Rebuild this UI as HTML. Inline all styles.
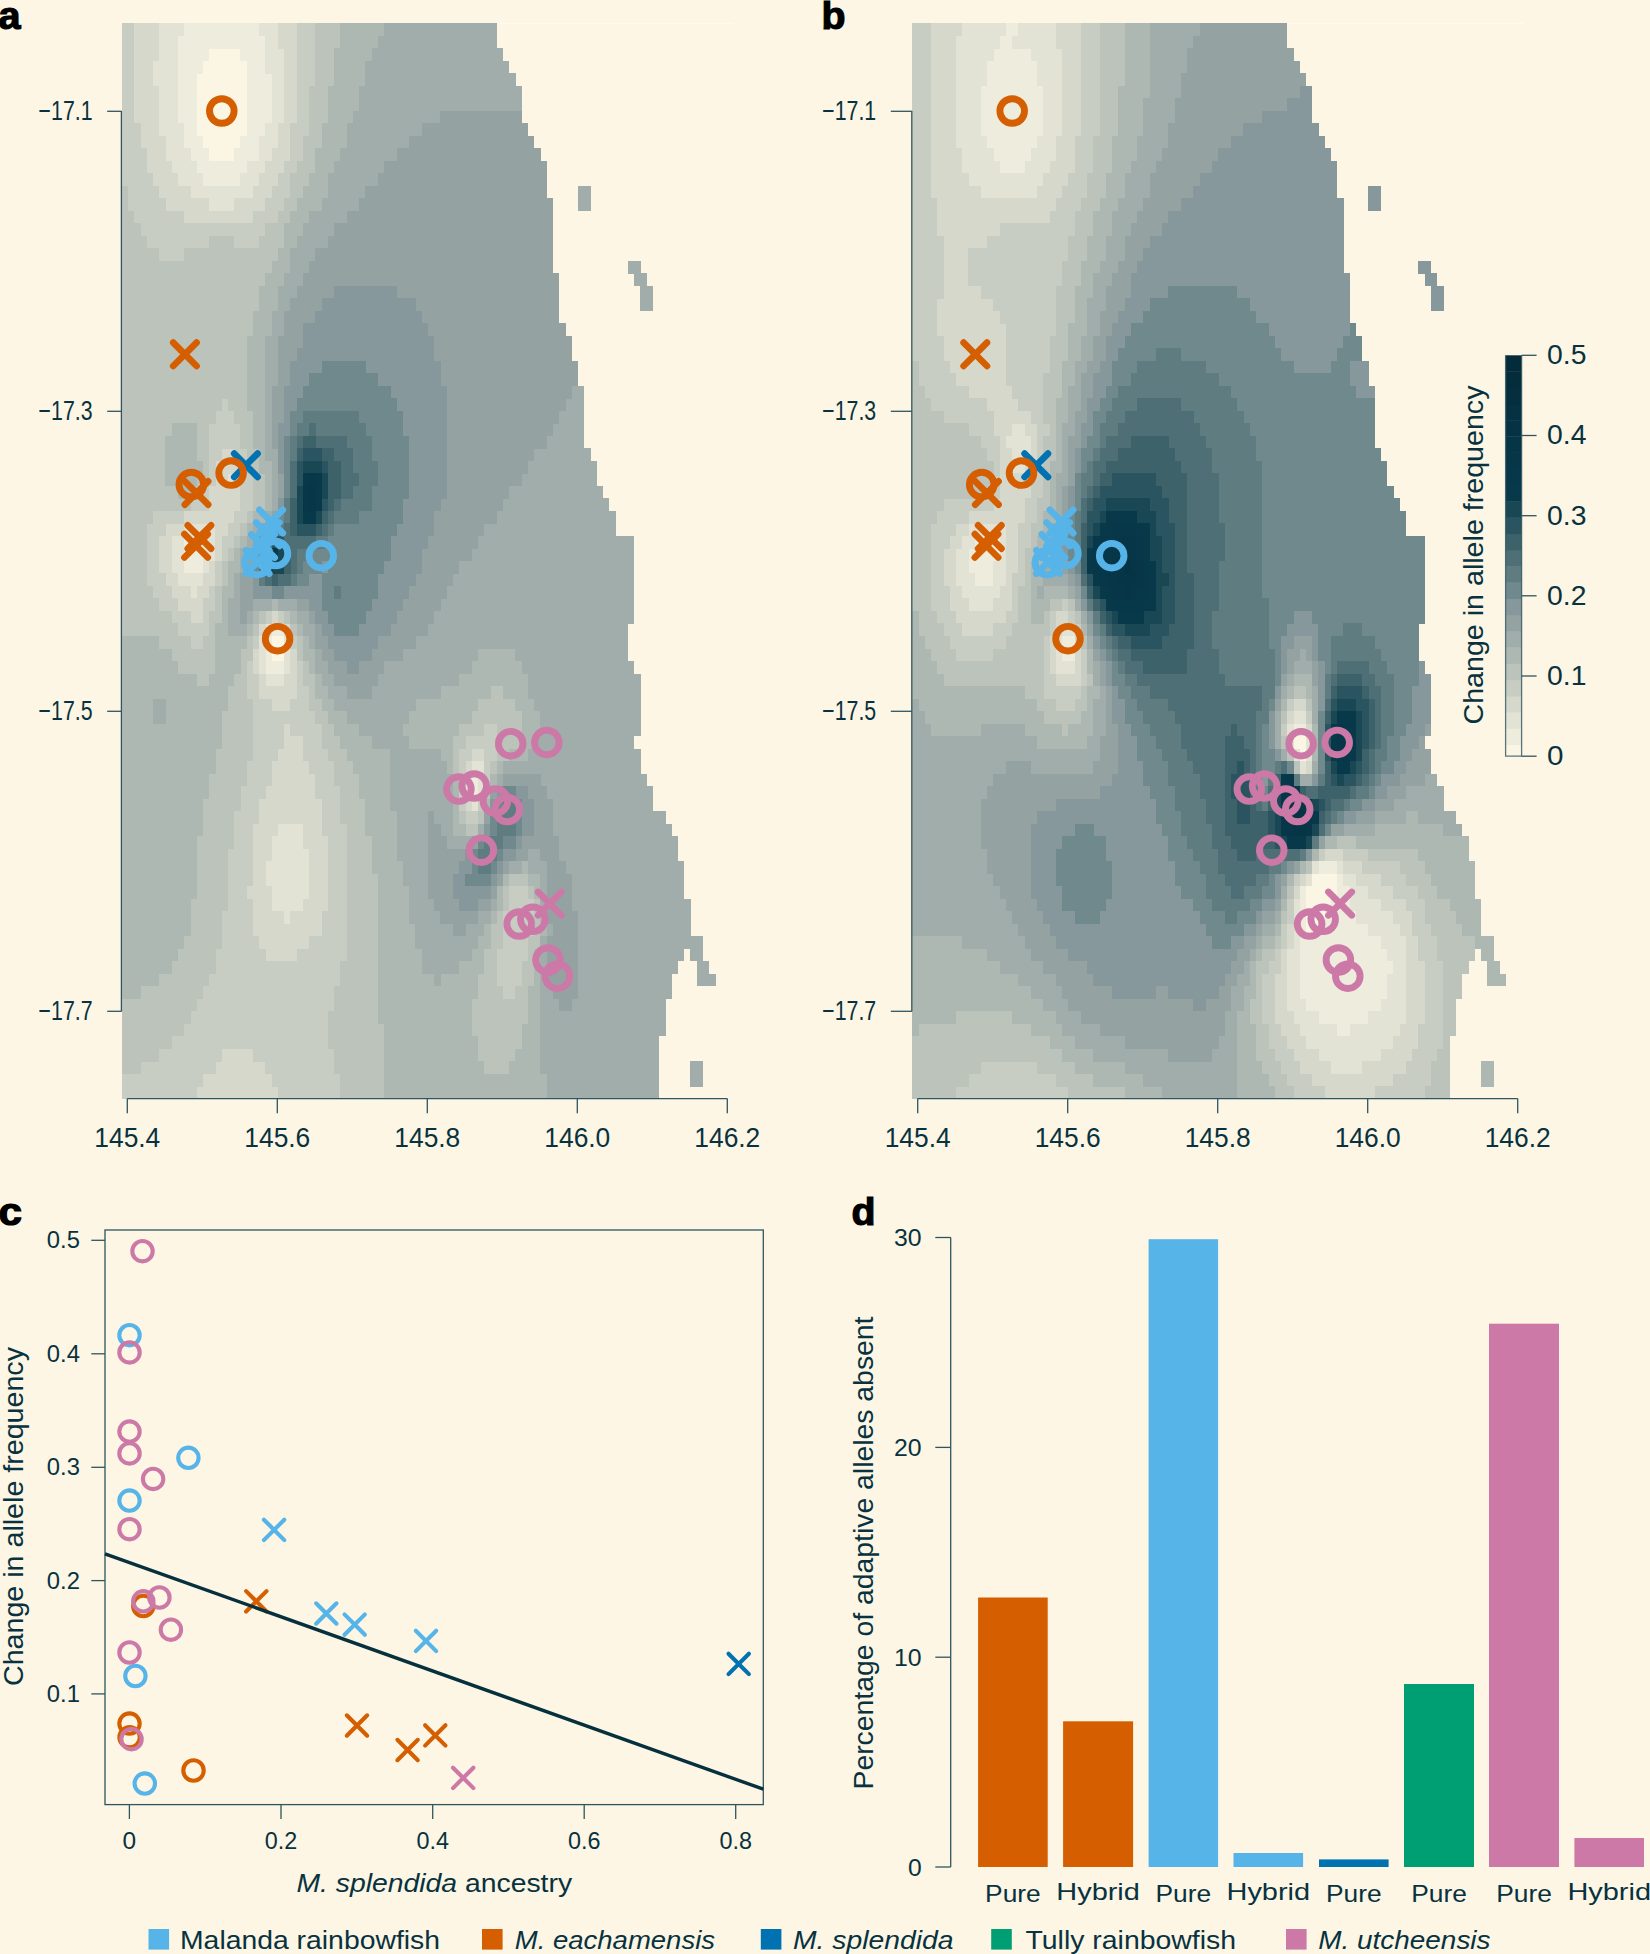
<!DOCTYPE html>
<html><head><meta charset="utf-8"><title>Figure</title>
<style>html,body{margin:0;padding:0;background:#fdf6e4;}svg{display:block;font-family:"Liberation Sans", Arial, sans-serif;}</style></head>
<body><svg width="1650" height="1954" viewBox="0 0 1650 1954">
<rect width="1650" height="1954" fill="#fdf6e4"/>
<path d="M497 23.3H734M1287.4 23.3H1524.4" stroke="#fffaf0" stroke-width="1.2"/>
<g shape-rendering="crispEdges">
<path fill="#fbf5e4" d="M209.10 48.21h31.55v12.81h-31.55zM202.85 60.72h44.05v12.81h-44.05zM196.60 73.22h50.30v12.81h-50.30zM196.60 85.73h50.30v12.81h-50.30zM196.60 98.24h50.30v12.81h-50.30zM196.60 110.74h50.30v12.81h-50.30zM196.60 123.25h50.30v12.81h-50.30zM202.85 135.75h37.80v12.81h-37.80zM209.10 148.26h25.30v12.81h-25.30zM271.60 635.99h12.80v12.81h-12.80zM271.60 648.50h12.80v12.81h-12.80z"/>
<path fill="#eeecdd" d="M184.10 23.20h75.30v12.81h-75.30zM177.85 35.71h87.80v12.81h-87.80zM177.85 48.21h31.55v12.81h-31.55zM240.35 48.21h25.30v12.81h-25.30zM177.85 60.72h25.30v12.81h-25.30zM246.60 60.72h19.05v12.81h-19.05zM177.85 73.22h19.05v12.81h-19.05zM246.60 73.22h25.30v12.81h-25.30zM177.85 85.73h19.05v12.81h-19.05zM246.60 85.73h25.30v12.81h-25.30zM177.85 98.24h19.05v12.81h-19.05zM246.60 98.24h25.30v12.81h-25.30zM177.85 110.74h19.05v12.81h-19.05zM246.60 110.74h25.30v12.81h-25.30zM184.10 123.25h12.80v12.81h-12.80zM246.60 123.25h19.05v12.81h-19.05zM184.10 135.75h19.05v12.81h-19.05zM240.35 135.75h19.05v12.81h-19.05zM190.35 148.26h19.05v12.81h-19.05zM234.10 148.26h25.30v12.81h-25.30zM196.60 160.77h50.30v12.81h-50.30zM202.85 173.27h37.80v12.81h-37.80zM184.10 535.95h19.05v12.81h-19.05zM184.10 548.45h19.05v12.81h-19.05zM184.10 560.96h19.05v12.81h-19.05zM271.60 623.49h12.80v12.81h-12.80zM265.35 635.99h6.55v12.81h-6.55zM265.35 648.50h6.55v12.81h-6.55zM265.35 661.01h19.05v12.81h-19.05zM471.60 773.56h6.55v12.81h-6.55zM471.60 786.07h6.55v12.81h-6.55z"/>
<path fill="#e3e3d5" d="M159.10 23.20h25.30v12.81h-25.30zM259.10 23.20h19.05v12.81h-19.05zM159.10 35.71h19.05v12.81h-19.05zM265.35 35.71h12.80v12.81h-12.80zM159.10 48.21h19.05v12.81h-19.05zM265.35 48.21h19.05v12.81h-19.05zM152.85 60.72h25.30v12.81h-25.30zM265.35 60.72h19.05v12.81h-19.05zM152.85 73.22h25.30v12.81h-25.30zM271.60 73.22h12.80v12.81h-12.80zM159.10 85.73h19.05v12.81h-19.05zM271.60 85.73h12.80v12.81h-12.80zM159.10 98.24h19.05v12.81h-19.05zM271.60 98.24h12.80v12.81h-12.80zM159.10 110.74h19.05v12.81h-19.05zM271.60 110.74h12.80v12.81h-12.80zM159.10 123.25h25.30v12.81h-25.30zM265.35 123.25h12.80v12.81h-12.80zM165.35 135.75h19.05v12.81h-19.05zM259.10 135.75h19.05v12.81h-19.05zM165.35 148.26h25.30v12.81h-25.30zM259.10 148.26h12.80v12.81h-12.80zM171.60 160.77h25.30v12.81h-25.30zM246.60 160.77h19.05v12.81h-19.05zM177.85 173.27h25.30v12.81h-25.30zM240.35 173.27h19.05v12.81h-19.05zM190.35 185.78h62.80v12.81h-62.80zM209.10 198.28h25.30v12.81h-25.30zM227.85 473.42h6.55v12.81h-6.55zM184.10 523.44h31.55v12.81h-31.55zM171.60 535.95h12.80v12.81h-12.80zM202.85 535.95h12.80v12.81h-12.80zM171.60 548.45h12.80v12.81h-12.80zM202.85 548.45h12.80v12.81h-12.80zM171.60 560.96h12.80v12.81h-12.80zM202.85 560.96h6.55v12.81h-6.55zM177.85 573.46h25.30v12.81h-25.30zM190.35 585.97h6.55v12.81h-6.55zM265.35 623.49h6.55v12.81h-6.55zM259.10 635.99h6.55v12.81h-6.55zM284.10 635.99h6.55v12.81h-6.55zM259.10 648.50h6.55v12.81h-6.55zM284.10 648.50h6.55v12.81h-6.55zM259.10 661.01h6.55v12.81h-6.55zM284.10 661.01h6.55v12.81h-6.55zM265.35 673.51h19.05v12.81h-19.05zM471.60 761.05h12.80v12.81h-12.80zM465.35 773.56h6.55v12.81h-6.55zM477.85 773.56h6.55v12.81h-6.55zM465.35 786.07h6.55v12.81h-6.55zM477.85 786.07h6.55v12.81h-6.55zM471.60 798.57h6.55v12.81h-6.55zM277.85 823.58h25.30v12.81h-25.30zM271.60 836.09h31.55v12.81h-31.55zM271.60 848.60h37.80v12.81h-37.80zM265.35 861.10h44.05v12.81h-44.05zM265.35 873.61h44.05v12.81h-44.05zM271.60 886.11h37.80v12.81h-37.80zM271.60 898.62h31.55v12.81h-31.55zM284.10 911.13h6.55v12.81h-6.55z"/>
<path fill="#d5d8cb" d="M134.10 23.20h25.30v12.81h-25.30zM277.85 23.20h19.05v12.81h-19.05zM134.10 35.71h25.30v12.81h-25.30zM277.85 35.71h19.05v12.81h-19.05zM134.10 48.21h25.30v12.81h-25.30zM284.10 48.21h12.80v12.81h-12.80zM134.10 60.72h19.05v12.81h-19.05zM284.10 60.72h12.80v12.81h-12.80zM134.10 73.22h19.05v12.81h-19.05zM284.10 73.22h12.80v12.81h-12.80zM134.10 85.73h25.30v12.81h-25.30zM284.10 85.73h12.80v12.81h-12.80zM134.10 98.24h25.30v12.81h-25.30zM284.10 98.24h12.80v12.81h-12.80zM134.10 110.74h25.30v12.81h-25.30zM284.10 110.74h12.80v12.81h-12.80zM140.35 123.25h19.05v12.81h-19.05zM277.85 123.25h12.80v12.81h-12.80zM140.35 135.75h25.30v12.81h-25.30zM277.85 135.75h12.80v12.81h-12.80zM146.60 148.26h19.05v12.81h-19.05zM271.60 148.26h19.05v12.81h-19.05zM146.60 160.77h25.30v12.81h-25.30zM265.35 160.77h19.05v12.81h-19.05zM152.85 173.27h25.30v12.81h-25.30zM259.10 173.27h19.05v12.81h-19.05zM159.10 185.78h31.55v12.81h-31.55zM252.85 185.78h19.05v12.81h-19.05zM165.35 198.28h44.05v12.81h-44.05zM234.10 198.28h31.55v12.81h-31.55zM184.10 210.79h69.05v12.81h-69.05zM221.60 448.40h12.80v12.81h-12.80zM215.35 460.91h25.30v12.81h-25.30zM215.35 473.42h12.80v12.81h-12.80zM234.10 473.42h6.55v12.81h-6.55zM209.10 485.92h31.55v12.81h-31.55zM209.10 498.43h31.55v12.81h-31.55zM184.10 510.93h50.30v12.81h-50.30zM165.35 523.44h19.05v12.81h-19.05zM215.35 523.44h12.80v12.81h-12.80zM159.10 535.95h12.80v12.81h-12.80zM215.35 535.95h6.55v12.81h-6.55zM159.10 548.45h12.80v12.81h-12.80zM215.35 548.45h6.55v12.81h-6.55zM159.10 560.96h12.80v12.81h-12.80zM209.10 560.96h6.55v12.81h-6.55zM165.35 573.46h12.80v12.81h-12.80zM202.85 573.46h12.80v12.81h-12.80zM171.60 585.97h19.05v12.81h-19.05zM196.60 585.97h12.80v12.81h-12.80zM177.85 598.48h25.30v12.81h-25.30zM190.35 610.98h12.80v12.81h-12.80zM271.60 610.98h6.55v12.81h-6.55zM259.10 623.49h6.55v12.81h-6.55zM284.10 623.49h6.55v12.81h-6.55zM252.85 648.50h6.55v12.81h-6.55zM290.35 648.50h6.55v12.81h-6.55zM252.85 661.01h6.55v12.81h-6.55zM290.35 661.01h6.55v12.81h-6.55zM259.10 673.51h6.55v12.81h-6.55zM284.10 673.51h12.80v12.81h-12.80zM259.10 686.02h37.80v12.81h-37.80zM271.60 698.52h19.05v12.81h-19.05zM284.10 723.54h6.55v12.81h-6.55zM284.10 736.04h19.05v12.81h-19.05zM277.85 748.55h25.30v12.81h-25.30zM471.60 748.55h12.80v12.81h-12.80zM271.60 761.05h37.80v12.81h-37.80zM465.35 761.05h6.55v12.81h-6.55zM271.60 773.56h44.05v12.81h-44.05zM265.35 786.07h50.30v12.81h-50.30zM259.10 798.57h62.80v12.81h-62.80zM465.35 798.57h6.55v12.81h-6.55zM259.10 811.08h62.80v12.81h-62.80zM252.85 823.58h25.30v12.81h-25.30zM302.85 823.58h19.05v12.81h-19.05zM252.85 836.09h19.05v12.81h-19.05zM302.85 836.09h25.30v12.81h-25.30zM252.85 848.60h19.05v12.81h-19.05zM309.10 848.60h19.05v12.81h-19.05zM252.85 861.10h12.80v12.81h-12.80zM309.10 861.10h19.05v12.81h-19.05zM252.85 873.61h12.80v12.81h-12.80zM309.10 873.61h19.05v12.81h-19.05zM246.60 886.11h25.30v12.81h-25.30zM309.10 886.11h19.05v12.81h-19.05zM252.85 898.62h19.05v12.81h-19.05zM302.85 898.62h25.30v12.81h-25.30zM252.85 911.13h31.55v12.81h-31.55zM290.35 911.13h31.55v12.81h-31.55zM252.85 923.63h69.05v12.81h-69.05zM259.10 936.14h50.30v12.81h-50.30zM265.35 948.64h31.55v12.81h-31.55zM221.60 1048.69h31.55v12.81h-31.55zM215.35 1061.20h50.30v12.81h-50.30zM202.85 1073.70h69.05v12.81h-69.05zM196.60 1086.21h81.55v12.81h-81.55z"/>
<path fill="#c8cdc3" d="M121.60 23.20h12.80v12.81h-12.80zM296.60 23.20h19.05v12.81h-19.05zM121.60 35.71h12.80v12.81h-12.80zM296.60 35.71h19.05v12.81h-19.05zM121.60 48.21h12.80v12.81h-12.80zM296.60 48.21h19.05v12.81h-19.05zM121.60 60.72h12.80v12.81h-12.80zM296.60 60.72h19.05v12.81h-19.05zM121.60 73.22h12.80v12.81h-12.80zM296.60 73.22h19.05v12.81h-19.05zM121.60 85.73h12.80v12.81h-12.80zM296.60 85.73h12.80v12.81h-12.80zM121.60 98.24h12.80v12.81h-12.80zM296.60 98.24h12.80v12.81h-12.80zM121.60 110.74h12.80v12.81h-12.80zM296.60 110.74h12.80v12.81h-12.80zM121.60 123.25h19.05v12.81h-19.05zM290.35 123.25h19.05v12.81h-19.05zM121.60 135.75h19.05v12.81h-19.05zM290.35 135.75h12.80v12.81h-12.80zM121.60 148.26h25.30v12.81h-25.30zM290.35 148.26h12.80v12.81h-12.80zM121.60 160.77h25.30v12.81h-25.30zM284.10 160.77h12.80v12.81h-12.80zM121.60 173.27h31.55v12.81h-31.55zM277.85 173.27h12.80v12.81h-12.80zM127.85 185.78h31.55v12.81h-31.55zM271.60 185.78h19.05v12.81h-19.05zM127.85 198.28h37.80v12.81h-37.80zM265.35 198.28h19.05v12.81h-19.05zM134.10 210.79h50.30v12.81h-50.30zM252.85 210.79h25.30v12.81h-25.30zM140.35 223.30h125.30v12.81h-125.30zM146.60 235.80h62.80v12.81h-62.80zM234.10 235.80h25.30v12.81h-25.30zM159.10 248.31h25.30v12.81h-25.30zM221.60 398.38h6.55v12.81h-6.55zM215.35 410.89h19.05v12.81h-19.05zM209.10 423.39h31.55v12.81h-31.55zM209.10 435.90h31.55v12.81h-31.55zM209.10 448.40h12.80v12.81h-12.80zM234.10 448.40h12.80v12.81h-12.80zM209.10 460.91h6.55v12.81h-6.55zM240.35 460.91h6.55v12.81h-6.55zM209.10 473.42h6.55v12.81h-6.55zM240.35 473.42h12.80v12.81h-12.80zM202.85 485.92h6.55v12.81h-6.55zM240.35 485.92h12.80v12.81h-12.80zM190.35 498.43h19.05v12.81h-19.05zM240.35 498.43h12.80v12.81h-12.80zM152.85 510.93h31.55v12.81h-31.55zM234.10 510.93h12.80v12.81h-12.80zM146.60 523.44h19.05v12.81h-19.05zM227.85 523.44h12.80v12.81h-12.80zM146.60 535.95h12.80v12.81h-12.80zM221.60 535.95h12.80v12.81h-12.80zM146.60 548.45h12.80v12.81h-12.80zM221.60 548.45h6.55v12.81h-6.55zM146.60 560.96h12.80v12.81h-12.80zM215.35 560.96h6.55v12.81h-6.55zM146.60 573.46h19.05v12.81h-19.05zM215.35 573.46h6.55v12.81h-6.55zM152.85 585.97h19.05v12.81h-19.05zM209.10 585.97h6.55v12.81h-6.55zM159.10 598.48h19.05v12.81h-19.05zM202.85 598.48h12.80v12.81h-12.80zM171.60 610.98h19.05v12.81h-19.05zM202.85 610.98h6.55v12.81h-6.55zM265.35 610.98h6.55v12.81h-6.55zM277.85 610.98h6.55v12.81h-6.55zM177.85 623.49h31.55v12.81h-31.55zM190.35 635.99h12.80v12.81h-12.80zM252.85 635.99h6.55v12.81h-6.55zM290.35 635.99h6.55v12.81h-6.55zM246.60 661.01h6.55v12.81h-6.55zM296.60 661.01h6.55v12.81h-6.55zM246.60 673.51h12.80v12.81h-12.80zM296.60 673.51h6.55v12.81h-6.55zM246.60 686.02h12.80v12.81h-12.80zM296.60 686.02h12.80v12.81h-12.80zM252.85 698.52h19.05v12.81h-19.05zM290.35 698.52h19.05v12.81h-19.05zM252.85 711.03h62.80v12.81h-62.80zM252.85 723.54h31.55v12.81h-31.55zM290.35 723.54h31.55v12.81h-31.55zM484.10 723.54h12.80v12.81h-12.80zM252.85 736.04h31.55v12.81h-31.55zM302.85 736.04h19.05v12.81h-19.05zM465.35 736.04h31.55v12.81h-31.55zM252.85 748.55h25.30v12.81h-25.30zM302.85 748.55h25.30v12.81h-25.30zM459.10 748.55h12.80v12.81h-12.80zM484.10 748.55h12.80v12.81h-12.80zM246.60 761.05h25.30v12.81h-25.30zM309.10 761.05h25.30v12.81h-25.30zM459.10 761.05h6.55v12.81h-6.55zM484.10 761.05h6.55v12.81h-6.55zM246.60 773.56h25.30v12.81h-25.30zM315.35 773.56h19.05v12.81h-19.05zM459.10 773.56h6.55v12.81h-6.55zM484.10 773.56h6.55v12.81h-6.55zM240.35 786.07h25.30v12.81h-25.30zM315.35 786.07h25.30v12.81h-25.30zM459.10 786.07h6.55v12.81h-6.55zM240.35 798.57h19.05v12.81h-19.05zM321.60 798.57h19.05v12.81h-19.05zM459.10 798.57h6.55v12.81h-6.55zM477.85 798.57h6.55v12.81h-6.55zM234.10 811.08h25.30v12.81h-25.30zM321.60 811.08h19.05v12.81h-19.05zM465.35 811.08h12.80v12.81h-12.80zM234.10 823.58h19.05v12.81h-19.05zM321.60 823.58h25.30v12.81h-25.30zM234.10 836.09h19.05v12.81h-19.05zM327.85 836.09h19.05v12.81h-19.05zM227.85 848.60h25.30v12.81h-25.30zM327.85 848.60h19.05v12.81h-19.05zM227.85 861.10h25.30v12.81h-25.30zM327.85 861.10h19.05v12.81h-19.05zM227.85 873.61h25.30v12.81h-25.30zM327.85 873.61h19.05v12.81h-19.05zM227.85 886.11h19.05v12.81h-19.05zM327.85 886.11h19.05v12.81h-19.05zM509.10 886.11h19.05v12.81h-19.05zM227.85 898.62h25.30v12.81h-25.30zM327.85 898.62h19.05v12.81h-19.05zM509.10 898.62h25.30v12.81h-25.30zM221.60 911.13h31.55v12.81h-31.55zM321.60 911.13h25.30v12.81h-25.30zM502.85 911.13h31.55v12.81h-31.55zM221.60 923.63h31.55v12.81h-31.55zM321.60 923.63h25.30v12.81h-25.30zM502.85 923.63h31.55v12.81h-31.55zM221.60 936.14h37.80v12.81h-37.80zM309.10 936.14h37.80v12.81h-37.80zM502.85 936.14h25.30v12.81h-25.30zM215.35 948.64h50.30v12.81h-50.30zM296.60 948.64h50.30v12.81h-50.30zM496.60 948.64h31.55v12.81h-31.55zM215.35 961.15h125.30v12.81h-125.30zM496.60 961.15h25.30v12.81h-25.30zM209.10 973.66h131.55v12.81h-131.55zM496.60 973.66h25.30v12.81h-25.30zM202.85 986.16h131.55v12.81h-131.55zM502.85 986.16h12.80v12.81h-12.80zM196.60 998.67h137.80v12.81h-137.80zM190.35 1011.17h137.80v12.81h-137.80zM184.10 1023.68h144.05v12.81h-144.05zM171.60 1036.19h156.55v12.81h-156.55zM159.10 1048.69h62.80v12.81h-62.80zM252.85 1048.69h81.55v12.81h-81.55zM140.35 1061.20h75.30v12.81h-75.30zM265.35 1061.20h69.05v12.81h-69.05zM121.60 1073.70h81.55v12.81h-81.55zM271.60 1073.70h69.05v12.81h-69.05zM121.60 1086.21h75.30v12.81h-75.30zM277.85 1086.21h62.80v12.81h-62.80z"/>
<path fill="#bcc3bb" d="M315.35 23.20h25.30v12.81h-25.30zM315.35 35.71h25.30v12.81h-25.30zM315.35 48.21h19.05v12.81h-19.05zM315.35 60.72h19.05v12.81h-19.05zM315.35 73.22h19.05v12.81h-19.05zM309.10 85.73h19.05v12.81h-19.05zM309.10 98.24h19.05v12.81h-19.05zM309.10 110.74h19.05v12.81h-19.05zM309.10 123.25h12.80v12.81h-12.80zM302.85 135.75h19.05v12.81h-19.05zM302.85 148.26h12.80v12.81h-12.80zM296.60 160.77h19.05v12.81h-19.05zM290.35 173.27h19.05v12.81h-19.05zM121.60 185.78h6.55v12.81h-6.55zM290.35 185.78h12.80v12.81h-12.80zM121.60 198.28h6.55v12.81h-6.55zM284.10 198.28h12.80v12.81h-12.80zM121.60 210.79h12.80v12.81h-12.80zM277.85 210.79h12.80v12.81h-12.80zM121.60 223.30h19.05v12.81h-19.05zM265.35 223.30h19.05v12.81h-19.05zM121.60 235.80h25.30v12.81h-25.30zM209.10 235.80h25.30v12.81h-25.30zM259.10 235.80h25.30v12.81h-25.30zM121.60 248.31h37.80v12.81h-37.80zM184.10 248.31h94.05v12.81h-94.05zM121.60 260.81h150.30v12.81h-150.30zM121.60 273.32h144.05v12.81h-144.05zM121.60 285.83h137.80v12.81h-137.80zM121.60 298.33h137.80v12.81h-137.80zM121.60 310.84h131.55v12.81h-131.55zM121.60 323.34h131.55v12.81h-131.55zM121.60 335.85h125.30v12.81h-125.30zM121.60 348.36h125.30v12.81h-125.30zM121.60 360.86h125.30v12.81h-125.30zM121.60 373.37h125.30v12.81h-125.30zM121.60 385.87h125.30v12.81h-125.30zM121.60 398.38h100.30v12.81h-100.30zM227.85 398.38h19.05v12.81h-19.05zM121.60 410.89h94.05v12.81h-94.05zM234.10 410.89h19.05v12.81h-19.05zM121.60 423.39h50.30v12.81h-50.30zM196.60 423.39h12.80v12.81h-12.80zM240.35 423.39h12.80v12.81h-12.80zM121.60 435.90h44.05v12.81h-44.05zM196.60 435.90h12.80v12.81h-12.80zM240.35 435.90h12.80v12.81h-12.80zM121.60 448.40h44.05v12.81h-44.05zM196.60 448.40h12.80v12.81h-12.80zM246.60 448.40h12.80v12.81h-12.80zM121.60 460.91h44.05v12.81h-44.05zM202.85 460.91h6.55v12.81h-6.55zM246.60 460.91h12.80v12.81h-12.80zM121.60 473.42h44.05v12.81h-44.05zM196.60 473.42h12.80v12.81h-12.80zM252.85 473.42h12.80v12.81h-12.80zM121.60 485.92h56.55v12.81h-56.55zM190.35 485.92h12.80v12.81h-12.80zM252.85 485.92h12.80v12.81h-12.80zM121.60 498.43h69.05v12.81h-69.05zM252.85 498.43h12.80v12.81h-12.80zM121.60 510.93h31.55v12.81h-31.55zM246.60 510.93h6.55v12.81h-6.55zM121.60 523.44h25.30v12.81h-25.30zM240.35 523.44h6.55v12.81h-6.55zM121.60 535.95h25.30v12.81h-25.30zM234.10 535.95h6.55v12.81h-6.55zM121.60 548.45h25.30v12.81h-25.30zM227.85 548.45h6.55v12.81h-6.55zM121.60 560.96h25.30v12.81h-25.30zM221.60 560.96h6.55v12.81h-6.55zM121.60 573.46h25.30v12.81h-25.30zM221.60 573.46h6.55v12.81h-6.55zM121.60 585.97h31.55v12.81h-31.55zM215.35 585.97h6.55v12.81h-6.55zM121.60 598.48h37.80v12.81h-37.80zM215.35 598.48h6.55v12.81h-6.55zM121.60 610.98h50.30v12.81h-50.30zM209.10 610.98h12.80v12.81h-12.80zM259.10 610.98h6.55v12.81h-6.55zM284.10 610.98h6.55v12.81h-6.55zM121.60 623.49h56.55v12.81h-56.55zM209.10 623.49h6.55v12.81h-6.55zM252.85 623.49h6.55v12.81h-6.55zM290.35 623.49h6.55v12.81h-6.55zM159.10 635.99h31.55v12.81h-31.55zM202.85 635.99h12.80v12.81h-12.80zM246.60 635.99h6.55v12.81h-6.55zM296.60 635.99h6.55v12.81h-6.55zM171.60 648.50h44.05v12.81h-44.05zM240.35 648.50h12.80v12.81h-12.80zM296.60 648.50h6.55v12.81h-6.55zM177.85 661.01h37.80v12.81h-37.80zM240.35 661.01h6.55v12.81h-6.55zM302.85 661.01h6.55v12.81h-6.55zM196.60 673.51h12.80v12.81h-12.80zM234.10 673.51h12.80v12.81h-12.80zM302.85 673.51h12.80v12.81h-12.80zM227.85 686.02h19.05v12.81h-19.05zM309.10 686.02h6.55v12.81h-6.55zM490.35 686.02h12.80v12.81h-12.80zM227.85 698.52h25.30v12.81h-25.30zM309.10 698.52h12.80v12.81h-12.80zM477.85 698.52h37.80v12.81h-37.80zM221.60 711.03h31.55v12.81h-31.55zM315.35 711.03h12.80v12.81h-12.80zM471.60 711.03h50.30v12.81h-50.30zM221.60 723.54h31.55v12.81h-31.55zM321.60 723.54h12.80v12.81h-12.80zM459.10 723.54h25.30v12.81h-25.30zM496.60 723.54h25.30v12.81h-25.30zM221.60 736.04h31.55v12.81h-31.55zM321.60 736.04h19.05v12.81h-19.05zM452.85 736.04h12.80v12.81h-12.80zM496.60 736.04h25.30v12.81h-25.30zM215.35 748.55h37.80v12.81h-37.80zM327.85 748.55h19.05v12.81h-19.05zM452.85 748.55h6.55v12.81h-6.55zM496.60 748.55h12.80v12.81h-12.80zM215.35 761.05h31.55v12.81h-31.55zM334.10 761.05h19.05v12.81h-19.05zM452.85 761.05h6.55v12.81h-6.55zM490.35 761.05h6.55v12.81h-6.55zM209.10 773.56h37.80v12.81h-37.80zM334.10 773.56h25.30v12.81h-25.30zM209.10 786.07h31.55v12.81h-31.55zM340.35 786.07h19.05v12.81h-19.05zM484.10 786.07h6.55v12.81h-6.55zM202.85 798.57h37.80v12.81h-37.80zM340.35 798.57h25.30v12.81h-25.30zM202.85 811.08h31.55v12.81h-31.55zM340.35 811.08h25.30v12.81h-25.30zM459.10 811.08h6.55v12.81h-6.55zM477.85 811.08h6.55v12.81h-6.55zM202.85 823.58h31.55v12.81h-31.55zM346.60 823.58h19.05v12.81h-19.05zM465.35 823.58h12.80v12.81h-12.80zM196.60 836.09h37.80v12.81h-37.80zM346.60 836.09h25.30v12.81h-25.30zM196.60 848.60h31.55v12.81h-31.55zM346.60 848.60h25.30v12.81h-25.30zM196.60 861.10h31.55v12.81h-31.55zM346.60 861.10h25.30v12.81h-25.30zM196.60 873.61h31.55v12.81h-31.55zM346.60 873.61h31.55v12.81h-31.55zM509.10 873.61h19.05v12.81h-19.05zM196.60 886.11h31.55v12.81h-31.55zM346.60 886.11h31.55v12.81h-31.55zM502.85 886.11h6.55v12.81h-6.55zM527.85 886.11h6.55v12.81h-6.55zM190.35 898.62h37.80v12.81h-37.80zM346.60 898.62h31.55v12.81h-31.55zM502.85 898.62h6.55v12.81h-6.55zM534.10 898.62h6.55v12.81h-6.55zM190.35 911.13h31.55v12.81h-31.55zM346.60 911.13h31.55v12.81h-31.55zM496.60 911.13h6.55v12.81h-6.55zM534.10 911.13h6.55v12.81h-6.55zM190.35 923.63h31.55v12.81h-31.55zM346.60 923.63h31.55v12.81h-31.55zM490.35 923.63h12.80v12.81h-12.80zM534.10 923.63h6.55v12.81h-6.55zM184.10 936.14h37.80v12.81h-37.80zM346.60 936.14h31.55v12.81h-31.55zM490.35 936.14h12.80v12.81h-12.80zM527.85 936.14h12.80v12.81h-12.80zM177.85 948.64h37.80v12.81h-37.80zM346.60 948.64h31.55v12.81h-31.55zM484.10 948.64h12.80v12.81h-12.80zM527.85 948.64h6.55v12.81h-6.55zM171.60 961.15h44.05v12.81h-44.05zM340.35 961.15h37.80v12.81h-37.80zM484.10 961.15h12.80v12.81h-12.80zM521.60 961.15h12.80v12.81h-12.80zM159.10 973.66h50.30v12.81h-50.30zM340.35 973.66h37.80v12.81h-37.80zM477.85 973.66h19.05v12.81h-19.05zM521.60 973.66h12.80v12.81h-12.80zM140.35 986.16h62.80v12.81h-62.80zM334.10 986.16h44.05v12.81h-44.05zM477.85 986.16h25.30v12.81h-25.30zM515.35 986.16h12.80v12.81h-12.80zM121.60 998.67h75.30v12.81h-75.30zM334.10 998.67h44.05v12.81h-44.05zM471.60 998.67h56.55v12.81h-56.55zM121.60 1011.17h69.05v12.81h-69.05zM327.85 1011.17h50.30v12.81h-50.30zM471.60 1011.17h56.55v12.81h-56.55zM121.60 1023.68h62.80v12.81h-62.80zM327.85 1023.68h56.55v12.81h-56.55zM471.60 1023.68h50.30v12.81h-50.30zM121.60 1036.19h50.30v12.81h-50.30zM327.85 1036.19h56.55v12.81h-56.55zM477.85 1036.19h44.05v12.81h-44.05zM121.60 1048.69h37.80v12.81h-37.80zM334.10 1048.69h50.30v12.81h-50.30zM477.85 1048.69h37.80v12.81h-37.80zM121.60 1061.20h19.05v12.81h-19.05zM334.10 1061.20h50.30v12.81h-50.30zM484.10 1061.20h25.30v12.81h-25.30zM340.35 1073.70h44.05v12.81h-44.05zM340.35 1086.21h44.05v12.81h-44.05z"/>
<path fill="#aeb8b2" d="M340.35 23.20h44.05v12.81h-44.05zM340.35 35.71h37.80v12.81h-37.80zM334.10 48.21h37.80v12.81h-37.80zM334.10 60.72h31.55v12.81h-31.55zM334.10 73.22h31.55v12.81h-31.55zM327.85 85.73h31.55v12.81h-31.55zM327.85 98.24h31.55v12.81h-31.55zM327.85 110.74h25.30v12.81h-25.30zM321.60 123.25h25.30v12.81h-25.30zM321.60 135.75h25.30v12.81h-25.30zM315.35 148.26h25.30v12.81h-25.30zM315.35 160.77h19.05v12.81h-19.05zM309.10 173.27h19.05v12.81h-19.05zM302.85 185.78h25.30v12.81h-25.30zM296.60 198.28h25.30v12.81h-25.30zM290.35 210.79h19.05v12.81h-19.05zM284.10 223.30h19.05v12.81h-19.05zM284.10 235.80h12.80v12.81h-12.80zM277.85 248.31h12.80v12.81h-12.80zM271.60 260.81h19.05v12.81h-19.05zM265.35 273.32h19.05v12.81h-19.05zM259.10 285.83h19.05v12.81h-19.05zM259.10 298.33h19.05v12.81h-19.05zM252.85 310.84h19.05v12.81h-19.05zM252.85 323.34h19.05v12.81h-19.05zM246.60 335.85h19.05v12.81h-19.05zM246.60 348.36h19.05v12.81h-19.05zM246.60 360.86h19.05v12.81h-19.05zM246.60 373.37h19.05v12.81h-19.05zM246.60 385.87h19.05v12.81h-19.05zM246.60 398.38h19.05v12.81h-19.05zM252.85 410.89h12.80v12.81h-12.80zM171.60 423.39h25.30v12.81h-25.30zM252.85 423.39h12.80v12.81h-12.80zM165.35 435.90h31.55v12.81h-31.55zM252.85 435.90h12.80v12.81h-12.80zM165.35 448.40h31.55v12.81h-31.55zM259.10 448.40h6.55v12.81h-6.55zM165.35 460.91h37.80v12.81h-37.80zM259.10 460.91h12.80v12.81h-12.80zM165.35 473.42h31.55v12.81h-31.55zM265.35 473.42h6.55v12.81h-6.55zM177.85 485.92h12.80v12.81h-12.80zM265.35 485.92h6.55v12.81h-6.55zM265.35 498.43h6.55v12.81h-6.55zM252.85 510.93h12.80v12.81h-12.80zM246.60 523.44h6.55v12.81h-6.55zM240.35 535.95h6.55v12.81h-6.55zM234.10 548.45h6.55v12.81h-6.55zM227.85 560.96h12.80v12.81h-12.80zM227.85 573.46h6.55v12.81h-6.55zM221.60 585.97h12.80v12.81h-12.80zM221.60 598.48h6.55v12.81h-6.55zM271.60 598.48h6.55v12.81h-6.55zM221.60 610.98h6.55v12.81h-6.55zM252.85 610.98h6.55v12.81h-6.55zM290.35 610.98h6.55v12.81h-6.55zM215.35 623.49h12.80v12.81h-12.80zM246.60 623.49h6.55v12.81h-6.55zM296.60 623.49h6.55v12.81h-6.55zM121.60 635.99h37.80v12.81h-37.80zM215.35 635.99h31.55v12.81h-31.55zM302.85 635.99h6.55v12.81h-6.55zM121.60 648.50h50.30v12.81h-50.30zM215.35 648.50h25.30v12.81h-25.30zM302.85 648.50h12.80v12.81h-12.80zM477.85 648.50h37.80v12.81h-37.80zM121.60 661.01h56.55v12.81h-56.55zM215.35 661.01h25.30v12.81h-25.30zM309.10 661.01h6.55v12.81h-6.55zM471.60 661.01h50.30v12.81h-50.30zM121.60 673.51h75.30v12.81h-75.30zM209.10 673.51h25.30v12.81h-25.30zM315.35 673.51h6.55v12.81h-6.55zM459.10 673.51h69.05v12.81h-69.05zM121.60 686.02h106.55v12.81h-106.55zM315.35 686.02h12.80v12.81h-12.80zM440.35 686.02h50.30v12.81h-50.30zM502.85 686.02h25.30v12.81h-25.30zM121.60 698.52h31.55v12.81h-31.55zM165.35 698.52h62.80v12.81h-62.80zM321.60 698.52h12.80v12.81h-12.80zM415.35 698.52h62.80v12.81h-62.80zM515.35 698.52h19.05v12.81h-19.05zM121.60 711.03h31.55v12.81h-31.55zM165.35 711.03h56.55v12.81h-56.55zM327.85 711.03h19.05v12.81h-19.05zM409.10 711.03h62.80v12.81h-62.80zM521.60 711.03h19.05v12.81h-19.05zM121.60 723.54h100.30v12.81h-100.30zM334.10 723.54h25.30v12.81h-25.30zM402.85 723.54h56.55v12.81h-56.55zM521.60 723.54h19.05v12.81h-19.05zM121.60 736.04h100.30v12.81h-100.30zM340.35 736.04h31.55v12.81h-31.55zM409.10 736.04h44.05v12.81h-44.05zM521.60 736.04h12.80v12.81h-12.80zM121.60 748.55h94.05v12.81h-94.05zM346.60 748.55h44.05v12.81h-44.05zM440.35 748.55h12.80v12.81h-12.80zM509.10 748.55h19.05v12.81h-19.05zM121.60 761.05h94.05v12.81h-94.05zM352.85 761.05h37.80v12.81h-37.80zM446.60 761.05h6.55v12.81h-6.55zM496.60 761.05h6.55v12.81h-6.55zM121.60 773.56h87.80v12.81h-87.80zM359.10 773.56h31.55v12.81h-31.55zM452.85 773.56h6.55v12.81h-6.55zM490.35 773.56h6.55v12.81h-6.55zM121.60 786.07h87.80v12.81h-87.80zM359.10 786.07h31.55v12.81h-31.55zM452.85 786.07h6.55v12.81h-6.55zM121.60 798.57h81.55v12.81h-81.55zM365.35 798.57h25.30v12.81h-25.30zM452.85 798.57h6.55v12.81h-6.55zM484.10 798.57h6.55v12.81h-6.55zM121.60 811.08h81.55v12.81h-81.55zM365.35 811.08h31.55v12.81h-31.55zM452.85 811.08h6.55v12.81h-6.55zM121.60 823.58h81.55v12.81h-81.55zM365.35 823.58h31.55v12.81h-31.55zM452.85 823.58h12.80v12.81h-12.80zM121.60 836.09h75.30v12.81h-75.30zM371.60 836.09h25.30v12.81h-25.30zM121.60 848.60h75.30v12.81h-75.30zM371.60 848.60h25.30v12.81h-25.30zM121.60 861.10h75.30v12.81h-75.30zM371.60 861.10h31.55v12.81h-31.55zM521.60 861.10h6.55v12.81h-6.55zM121.60 873.61h75.30v12.81h-75.30zM377.85 873.61h25.30v12.81h-25.30zM502.85 873.61h6.55v12.81h-6.55zM527.85 873.61h12.80v12.81h-12.80zM121.60 886.11h75.30v12.81h-75.30zM377.85 886.11h31.55v12.81h-31.55zM496.60 886.11h6.55v12.81h-6.55zM534.10 886.11h6.55v12.81h-6.55zM121.60 898.62h69.05v12.81h-69.05zM377.85 898.62h31.55v12.81h-31.55zM496.60 898.62h6.55v12.81h-6.55zM121.60 911.13h69.05v12.81h-69.05zM377.85 911.13h31.55v12.81h-31.55zM490.35 911.13h6.55v12.81h-6.55zM540.35 911.13h6.55v12.81h-6.55zM121.60 923.63h69.05v12.81h-69.05zM377.85 923.63h37.80v12.81h-37.80zM484.10 923.63h6.55v12.81h-6.55zM540.35 923.63h6.55v12.81h-6.55zM121.60 936.14h62.80v12.81h-62.80zM377.85 936.14h37.80v12.81h-37.80zM477.85 936.14h12.80v12.81h-12.80zM121.60 948.64h56.55v12.81h-56.55zM377.85 948.64h44.05v12.81h-44.05zM471.60 948.64h12.80v12.81h-12.80zM534.10 948.64h6.55v12.81h-6.55zM121.60 961.15h50.30v12.81h-50.30zM377.85 961.15h44.05v12.81h-44.05zM459.10 961.15h25.30v12.81h-25.30zM534.10 961.15h6.55v12.81h-6.55zM121.60 973.66h37.80v12.81h-37.80zM377.85 973.66h56.55v12.81h-56.55zM440.35 973.66h37.80v12.81h-37.80zM534.10 973.66h6.55v12.81h-6.55zM121.60 986.16h19.05v12.81h-19.05zM377.85 986.16h100.30v12.81h-100.30zM527.85 986.16h12.80v12.81h-12.80zM377.85 998.67h94.05v12.81h-94.05zM527.85 998.67h12.80v12.81h-12.80zM377.85 1011.17h94.05v12.81h-94.05zM527.85 1011.17h12.80v12.81h-12.80zM384.10 1023.68h87.80v12.81h-87.80zM521.60 1023.68h19.05v12.81h-19.05zM384.10 1036.19h94.05v12.81h-94.05zM521.60 1036.19h19.05v12.81h-19.05zM384.10 1048.69h94.05v12.81h-94.05zM515.35 1048.69h25.30v12.81h-25.30zM384.10 1061.20h100.30v12.81h-100.30zM509.10 1061.20h31.55v12.81h-31.55zM384.10 1073.70h162.80v12.81h-162.80zM384.10 1086.21h162.80v12.81h-162.80z"/>
<path fill="#a1adaa" d="M384.10 23.20h112.80v12.81h-112.80zM377.85 35.71h119.05v12.81h-119.05zM371.60 48.21h131.55v12.81h-131.55zM365.35 60.72h144.05v12.81h-144.05zM365.35 73.22h150.30v12.81h-150.30zM359.10 85.73h162.80v12.81h-162.80zM359.10 98.24h162.80v12.81h-162.80zM352.85 110.74h87.80v12.81h-87.80zM346.60 123.25h75.30v12.81h-75.30zM346.60 135.75h62.80v12.81h-62.80zM340.35 148.26h56.55v12.81h-56.55zM334.10 160.77h50.30v12.81h-50.30zM327.85 173.27h50.30v12.81h-50.30zM327.85 185.78h37.80v12.81h-37.80zM577.85 185.78h12.80v12.81h-12.80zM321.60 198.28h37.80v12.81h-37.80zM577.85 198.28h12.80v12.81h-12.80zM309.10 210.79h37.80v12.81h-37.80zM302.85 223.30h31.55v12.81h-31.55zM296.60 235.80h31.55v12.81h-31.55zM290.35 248.31h25.30v12.81h-25.30zM290.35 260.81h19.05v12.81h-19.05zM627.85 260.81h12.80v12.81h-12.80zM284.10 273.32h19.05v12.81h-19.05zM634.10 273.32h12.80v12.81h-12.80zM277.85 285.83h19.05v12.81h-19.05zM640.35 285.83h12.80v12.81h-12.80zM277.85 298.33h12.80v12.81h-12.80zM640.35 298.33h12.80v12.81h-12.80zM271.60 310.84h12.80v12.81h-12.80zM271.60 323.34h12.80v12.81h-12.80zM265.35 335.85h12.80v12.81h-12.80zM265.35 348.36h12.80v12.81h-12.80zM265.35 360.86h12.80v12.81h-12.80zM265.35 373.37h12.80v12.81h-12.80zM265.35 385.87h6.55v12.81h-6.55zM571.60 385.87h12.80v12.81h-12.80zM265.35 398.38h6.55v12.81h-6.55zM565.35 398.38h19.05v12.81h-19.05zM265.35 410.89h6.55v12.81h-6.55zM559.10 410.89h25.30v12.81h-25.30zM265.35 423.39h6.55v12.81h-6.55zM552.85 423.39h31.55v12.81h-31.55zM265.35 435.90h6.55v12.81h-6.55zM546.60 435.90h37.80v12.81h-37.80zM265.35 448.40h12.80v12.81h-12.80zM534.10 448.40h56.55v12.81h-56.55zM271.60 460.91h6.55v12.81h-6.55zM527.85 460.91h69.05v12.81h-69.05zM271.60 473.42h6.55v12.81h-6.55zM521.60 473.42h75.30v12.81h-75.30zM271.60 485.92h6.55v12.81h-6.55zM509.10 485.92h94.05v12.81h-94.05zM271.60 498.43h6.55v12.81h-6.55zM502.85 498.43h106.55v12.81h-106.55zM265.35 510.93h6.55v12.81h-6.55zM496.60 510.93h119.05v12.81h-119.05zM252.85 523.44h6.55v12.81h-6.55zM484.10 523.44h131.55v12.81h-131.55zM246.60 535.95h6.55v12.81h-6.55zM477.85 535.95h156.55v12.81h-156.55zM240.35 548.45h6.55v12.81h-6.55zM471.60 548.45h162.80v12.81h-162.80zM240.35 560.96h6.55v12.81h-6.55zM459.10 560.96h175.30v12.81h-175.30zM234.10 573.46h6.55v12.81h-6.55zM452.85 573.46h181.55v12.81h-181.55zM234.10 585.97h6.55v12.81h-6.55zM446.60 585.97h187.80v12.81h-187.80zM227.85 598.48h12.80v12.81h-12.80zM252.85 598.48h19.05v12.81h-19.05zM277.85 598.48h19.05v12.81h-19.05zM440.35 598.48h194.05v12.81h-194.05zM227.85 610.98h12.80v12.81h-12.80zM246.60 610.98h6.55v12.81h-6.55zM296.60 610.98h12.80v12.81h-12.80zM434.10 610.98h200.30v12.81h-200.30zM227.85 623.49h19.05v12.81h-19.05zM302.85 623.49h12.80v12.81h-12.80zM427.85 623.49h200.30v12.81h-200.30zM309.10 635.99h6.55v12.81h-6.55zM415.35 635.99h212.80v12.81h-212.80zM315.35 648.50h6.55v12.81h-6.55zM402.85 648.50h75.30v12.81h-75.30zM515.35 648.50h112.80v12.81h-112.80zM315.35 661.01h12.80v12.81h-12.80zM384.10 661.01h87.80v12.81h-87.80zM521.60 661.01h112.80v12.81h-112.80zM321.60 673.51h12.80v12.81h-12.80zM377.85 673.51h81.55v12.81h-81.55zM527.85 673.51h112.80v12.81h-112.80zM327.85 686.02h19.05v12.81h-19.05zM371.60 686.02h69.05v12.81h-69.05zM527.85 686.02h112.80v12.81h-112.80zM152.85 698.52h12.80v12.81h-12.80zM334.10 698.52h81.55v12.81h-81.55zM534.10 698.52h106.55v12.81h-106.55zM152.85 711.03h12.80v12.81h-12.80zM346.60 711.03h62.80v12.81h-62.80zM540.35 711.03h100.30v12.81h-100.30zM359.10 723.54h44.05v12.81h-44.05zM540.35 723.54h100.30v12.81h-100.30zM371.60 736.04h37.80v12.81h-37.80zM534.10 736.04h100.30v12.81h-100.30zM390.35 748.55h50.30v12.81h-50.30zM527.85 748.55h112.80v12.81h-112.80zM390.35 761.05h56.55v12.81h-56.55zM502.85 761.05h137.80v12.81h-137.80zM390.35 773.56h62.80v12.81h-62.80zM496.60 773.56h6.55v12.81h-6.55zM540.35 773.56h106.55v12.81h-106.55zM390.35 786.07h62.80v12.81h-62.80zM546.60 786.07h106.55v12.81h-106.55zM390.35 798.57h62.80v12.81h-62.80zM552.85 798.57h100.30v12.81h-100.30zM396.60 811.08h31.55v12.81h-31.55zM434.10 811.08h19.05v12.81h-19.05zM552.85 811.08h112.80v12.81h-112.80zM396.60 823.58h31.55v12.81h-31.55zM440.35 823.58h12.80v12.81h-12.80zM477.85 823.58h6.55v12.81h-6.55zM552.85 823.58h119.05v12.81h-119.05zM396.60 836.09h31.55v12.81h-31.55zM446.60 836.09h25.30v12.81h-25.30zM559.10 836.09h119.05v12.81h-119.05zM396.60 848.60h31.55v12.81h-31.55zM527.85 848.60h12.80v12.81h-12.80zM559.10 848.60h119.05v12.81h-119.05zM402.85 861.10h25.30v12.81h-25.30zM509.10 861.10h12.80v12.81h-12.80zM527.85 861.10h19.05v12.81h-19.05zM565.35 861.10h119.05v12.81h-119.05zM402.85 873.61h25.30v12.81h-25.30zM540.35 873.61h6.55v12.81h-6.55zM571.60 873.61h112.80v12.81h-112.80zM409.10 886.11h19.05v12.81h-19.05zM540.35 886.11h6.55v12.81h-6.55zM571.60 886.11h112.80v12.81h-112.80zM409.10 898.62h25.30v12.81h-25.30zM490.35 898.62h6.55v12.81h-6.55zM540.35 898.62h6.55v12.81h-6.55zM571.60 898.62h119.05v12.81h-119.05zM409.10 911.13h31.55v12.81h-31.55zM477.85 911.13h12.80v12.81h-12.80zM577.85 911.13h112.80v12.81h-112.80zM415.35 923.63h37.80v12.81h-37.80zM465.35 923.63h19.05v12.81h-19.05zM546.60 923.63h6.55v12.81h-6.55zM577.85 923.63h112.80v12.81h-112.80zM415.35 936.14h62.80v12.81h-62.80zM540.35 936.14h6.55v12.81h-6.55zM577.85 936.14h125.30v12.81h-125.30zM421.60 948.64h50.30v12.81h-50.30zM540.35 948.64h6.55v12.81h-6.55zM577.85 948.64h106.55v12.81h-106.55zM690.35 948.64h12.80v12.81h-12.80zM421.60 961.15h37.80v12.81h-37.80zM540.35 961.15h6.55v12.81h-6.55zM577.85 961.15h100.30v12.81h-100.30zM696.60 961.15h12.80v12.81h-12.80zM434.10 973.66h6.55v12.81h-6.55zM540.35 973.66h6.55v12.81h-6.55zM577.85 973.66h94.05v12.81h-94.05zM696.60 973.66h19.05v12.81h-19.05zM540.35 986.16h12.80v12.81h-12.80zM577.85 986.16h94.05v12.81h-94.05zM540.35 998.67h19.05v12.81h-19.05zM571.60 998.67h94.05v12.81h-94.05zM540.35 1011.17h125.30v12.81h-125.30zM540.35 1023.68h125.30v12.81h-125.30zM540.35 1036.19h119.05v12.81h-119.05zM540.35 1048.69h119.05v12.81h-119.05zM540.35 1061.20h119.05v12.81h-119.05zM690.35 1061.20h12.80v12.81h-12.80zM546.60 1073.70h112.80v12.81h-112.80zM690.35 1073.70h12.80v12.81h-12.80zM546.60 1086.21h112.80v12.81h-112.80z"/>
<path fill="#94a3a2" d="M440.35 110.74h81.55v12.81h-81.55zM421.60 123.25h106.55v12.81h-106.55zM409.10 135.75h125.30v12.81h-125.30zM396.60 148.26h144.05v12.81h-144.05zM384.10 160.77h162.80v12.81h-162.80zM377.85 173.27h169.05v12.81h-169.05zM365.35 185.78h181.55v12.81h-181.55zM359.10 198.28h194.05v12.81h-194.05zM346.60 210.79h206.55v12.81h-206.55zM334.10 223.30h219.05v12.81h-219.05zM327.85 235.80h225.30v12.81h-225.30zM315.35 248.31h237.80v12.81h-237.80zM309.10 260.81h244.05v12.81h-244.05zM302.85 273.32h256.55v12.81h-256.55zM296.60 285.83h37.80v12.81h-37.80zM396.60 285.83h162.80v12.81h-162.80zM290.35 298.33h31.55v12.81h-31.55zM415.35 298.33h144.05v12.81h-144.05zM284.10 310.84h31.55v12.81h-31.55zM421.60 310.84h137.80v12.81h-137.80zM284.10 323.34h19.05v12.81h-19.05zM427.85 323.34h137.80v12.81h-137.80zM277.85 335.85h25.30v12.81h-25.30zM434.10 335.85h137.80v12.81h-137.80zM277.85 348.36h19.05v12.81h-19.05zM434.10 348.36h137.80v12.81h-137.80zM277.85 360.86h12.80v12.81h-12.80zM440.35 360.86h137.80v12.81h-137.80zM277.85 373.37h12.80v12.81h-12.80zM440.35 373.37h137.80v12.81h-137.80zM271.60 385.87h12.80v12.81h-12.80zM446.60 385.87h125.30v12.81h-125.30zM271.60 398.38h12.80v12.81h-12.80zM446.60 398.38h119.05v12.81h-119.05zM271.60 410.89h12.80v12.81h-12.80zM446.60 410.89h112.80v12.81h-112.80zM271.60 423.39h6.55v12.81h-6.55zM446.60 423.39h106.55v12.81h-106.55zM271.60 435.90h6.55v12.81h-6.55zM446.60 435.90h100.30v12.81h-100.30zM446.60 448.40h87.80v12.81h-87.80zM446.60 460.91h81.55v12.81h-81.55zM277.85 473.42h6.55v12.81h-6.55zM446.60 473.42h75.30v12.81h-75.30zM277.85 485.92h6.55v12.81h-6.55zM446.60 485.92h62.80v12.81h-62.80zM440.35 498.43h62.80v12.81h-62.80zM271.60 510.93h6.55v12.81h-6.55zM434.10 510.93h62.80v12.81h-62.80zM259.10 523.44h6.55v12.81h-6.55zM434.10 523.44h50.30v12.81h-50.30zM252.85 535.95h6.55v12.81h-6.55zM427.85 535.95h50.30v12.81h-50.30zM246.60 548.45h6.55v12.81h-6.55zM421.60 548.45h50.30v12.81h-50.30zM246.60 560.96h6.55v12.81h-6.55zM421.60 560.96h37.80v12.81h-37.80zM240.35 573.46h12.80v12.81h-12.80zM415.35 573.46h37.80v12.81h-37.80zM240.35 585.97h12.80v12.81h-12.80zM409.10 585.97h37.80v12.81h-37.80zM240.35 598.48h12.80v12.81h-12.80zM296.60 598.48h12.80v12.81h-12.80zM402.85 598.48h37.80v12.81h-37.80zM240.35 610.98h6.55v12.81h-6.55zM309.10 610.98h6.55v12.81h-6.55zM396.60 610.98h37.80v12.81h-37.80zM315.35 623.49h6.55v12.81h-6.55zM390.35 623.49h37.80v12.81h-37.80zM315.35 635.99h12.80v12.81h-12.80zM377.85 635.99h37.80v12.81h-37.80zM321.60 648.50h12.80v12.81h-12.80zM371.60 648.50h31.55v12.81h-31.55zM327.85 661.01h19.05v12.81h-19.05zM359.10 661.01h25.30v12.81h-25.30zM334.10 673.51h44.05v12.81h-44.05zM346.60 686.02h25.30v12.81h-25.30zM502.85 773.56h37.80v12.81h-37.80zM490.35 786.07h6.55v12.81h-6.55zM527.85 786.07h19.05v12.81h-19.05zM534.10 798.57h19.05v12.81h-19.05zM427.85 811.08h6.55v12.81h-6.55zM484.10 811.08h6.55v12.81h-6.55zM534.10 811.08h19.05v12.81h-19.05zM427.85 823.58h12.80v12.81h-12.80zM534.10 823.58h19.05v12.81h-19.05zM427.85 836.09h19.05v12.81h-19.05zM471.60 836.09h6.55v12.81h-6.55zM521.60 836.09h37.80v12.81h-37.80zM427.85 848.60h37.80v12.81h-37.80zM515.35 848.60h12.80v12.81h-12.80zM540.35 848.60h19.05v12.81h-19.05zM427.85 861.10h31.55v12.81h-31.55zM502.85 861.10h6.55v12.81h-6.55zM546.60 861.10h19.05v12.81h-19.05zM427.85 873.61h25.30v12.81h-25.30zM496.60 873.61h6.55v12.81h-6.55zM546.60 873.61h25.30v12.81h-25.30zM427.85 886.11h25.30v12.81h-25.30zM490.35 886.11h6.55v12.81h-6.55zM546.60 886.11h25.30v12.81h-25.30zM434.10 898.62h25.30v12.81h-25.30zM477.85 898.62h12.80v12.81h-12.80zM546.60 898.62h25.30v12.81h-25.30zM440.35 911.13h37.80v12.81h-37.80zM546.60 911.13h31.55v12.81h-31.55zM452.85 923.63h12.80v12.81h-12.80zM552.85 923.63h25.30v12.81h-25.30zM546.60 936.14h31.55v12.81h-31.55zM546.60 948.64h31.55v12.81h-31.55zM546.60 961.15h31.55v12.81h-31.55zM546.60 973.66h31.55v12.81h-31.55zM552.85 986.16h25.30v12.81h-25.30zM559.10 998.67h12.80v12.81h-12.80z"/>
<path fill="#86989b" d="M334.10 285.83h62.80v12.81h-62.80zM321.60 298.33h94.05v12.81h-94.05zM315.35 310.84h106.55v12.81h-106.55zM302.85 323.34h125.30v12.81h-125.30zM302.85 335.85h131.55v12.81h-131.55zM296.60 348.36h137.80v12.81h-137.80zM290.35 360.86h31.55v12.81h-31.55zM365.35 360.86h75.30v12.81h-75.30zM290.35 373.37h19.05v12.81h-19.05zM377.85 373.37h62.80v12.81h-62.80zM284.10 385.87h19.05v12.81h-19.05zM390.35 385.87h56.55v12.81h-56.55zM284.10 398.38h12.80v12.81h-12.80zM396.60 398.38h50.30v12.81h-50.30zM284.10 410.89h6.55v12.81h-6.55zM402.85 410.89h44.05v12.81h-44.05zM277.85 423.39h12.80v12.81h-12.80zM402.85 423.39h44.05v12.81h-44.05zM277.85 435.90h6.55v12.81h-6.55zM409.10 435.90h37.80v12.81h-37.80zM277.85 448.40h6.55v12.81h-6.55zM409.10 448.40h37.80v12.81h-37.80zM277.85 460.91h6.55v12.81h-6.55zM409.10 460.91h37.80v12.81h-37.80zM409.10 473.42h37.80v12.81h-37.80zM409.10 485.92h37.80v12.81h-37.80zM277.85 498.43h6.55v12.81h-6.55zM402.85 498.43h37.80v12.81h-37.80zM402.85 510.93h31.55v12.81h-31.55zM265.35 523.44h6.55v12.81h-6.55zM396.60 523.44h37.80v12.81h-37.80zM390.35 535.95h37.80v12.81h-37.80zM252.85 548.45h6.55v12.81h-6.55zM390.35 548.45h31.55v12.81h-31.55zM321.60 560.96h6.55v12.81h-6.55zM384.10 560.96h37.80v12.81h-37.80zM252.85 573.46h6.55v12.81h-6.55zM309.10 573.46h12.80v12.81h-12.80zM377.85 573.46h37.80v12.81h-37.80zM252.85 585.97h19.05v12.81h-19.05zM284.10 585.97h37.80v12.81h-37.80zM377.85 585.97h31.55v12.81h-31.55zM309.10 598.48h12.80v12.81h-12.80zM371.60 598.48h31.55v12.81h-31.55zM315.35 610.98h12.80v12.81h-12.80zM365.35 610.98h31.55v12.81h-31.55zM321.60 623.49h12.80v12.81h-12.80zM359.10 623.49h31.55v12.81h-31.55zM327.85 635.99h50.30v12.81h-50.30zM334.10 648.50h37.80v12.81h-37.80zM346.60 661.01h12.80v12.81h-12.80zM496.60 786.07h6.55v12.81h-6.55zM515.35 786.07h12.80v12.81h-12.80zM490.35 798.57h6.55v12.81h-6.55zM521.60 798.57h12.80v12.81h-12.80zM521.60 811.08h12.80v12.81h-12.80zM484.10 823.58h6.55v12.81h-6.55zM521.60 823.58h12.80v12.81h-12.80zM515.35 836.09h6.55v12.81h-6.55zM465.35 848.60h6.55v12.81h-6.55zM502.85 848.60h12.80v12.81h-12.80zM459.10 861.10h12.80v12.81h-12.80zM496.60 861.10h6.55v12.81h-6.55zM452.85 873.61h12.80v12.81h-12.80zM490.35 873.61h6.55v12.81h-6.55zM452.85 886.11h37.80v12.81h-37.80zM459.10 898.62h19.05v12.81h-19.05z"/>
<path fill="#6f898c" d="M321.60 360.86h44.05v12.81h-44.05zM309.10 373.37h69.05v12.81h-69.05zM302.85 385.87h87.80v12.81h-87.80zM296.60 398.38h100.30v12.81h-100.30zM290.35 410.89h12.80v12.81h-12.80zM359.10 410.89h44.05v12.81h-44.05zM290.35 423.39h6.55v12.81h-6.55zM365.35 423.39h37.80v12.81h-37.80zM284.10 435.90h6.55v12.81h-6.55zM371.60 435.90h37.80v12.81h-37.80zM284.10 448.40h6.55v12.81h-6.55zM371.60 448.40h37.80v12.81h-37.80zM284.10 460.91h6.55v12.81h-6.55zM377.85 460.91h31.55v12.81h-31.55zM284.10 473.42h6.55v12.81h-6.55zM377.85 473.42h31.55v12.81h-31.55zM284.10 485.92h6.55v12.81h-6.55zM371.60 485.92h37.80v12.81h-37.80zM371.60 498.43h31.55v12.81h-31.55zM277.85 510.93h6.55v12.81h-6.55zM359.10 510.93h44.05v12.81h-44.05zM334.10 523.44h62.80v12.81h-62.80zM259.10 535.95h6.55v12.81h-6.55zM327.85 535.95h62.80v12.81h-62.80zM309.10 548.45h81.55v12.81h-81.55zM252.85 560.96h6.55v12.81h-6.55zM302.85 560.96h19.05v12.81h-19.05zM327.85 560.96h56.55v12.81h-56.55zM296.60 573.46h12.80v12.81h-12.80zM321.60 573.46h56.55v12.81h-56.55zM271.60 585.97h12.80v12.81h-12.80zM321.60 585.97h12.80v12.81h-12.80zM340.35 585.97h37.80v12.81h-37.80zM321.60 598.48h50.30v12.81h-50.30zM327.85 610.98h37.80v12.81h-37.80zM334.10 623.49h25.30v12.81h-25.30zM502.85 786.07h12.80v12.81h-12.80zM496.60 798.57h6.55v12.81h-6.55zM515.35 798.57h6.55v12.81h-6.55zM490.35 811.08h6.55v12.81h-6.55zM515.35 811.08h6.55v12.81h-6.55zM490.35 823.58h6.55v12.81h-6.55zM515.35 823.58h6.55v12.81h-6.55zM477.85 836.09h6.55v12.81h-6.55zM502.85 836.09h12.80v12.81h-12.80zM471.60 848.60h6.55v12.81h-6.55zM496.60 848.60h6.55v12.81h-6.55zM471.60 861.10h6.55v12.81h-6.55zM490.35 861.10h6.55v12.81h-6.55zM465.35 873.61h25.30v12.81h-25.30z"/>
<path fill="#5f7c81" d="M302.85 410.89h56.55v12.81h-56.55zM296.60 423.39h12.80v12.81h-12.80zM315.35 423.39h50.30v12.81h-50.30zM290.35 435.90h6.55v12.81h-6.55zM346.60 435.90h25.30v12.81h-25.30zM290.35 448.40h6.55v12.81h-6.55zM352.85 448.40h19.05v12.81h-19.05zM352.85 460.91h25.30v12.81h-25.30zM359.10 473.42h19.05v12.81h-19.05zM352.85 485.92h19.05v12.81h-19.05zM284.10 498.43h6.55v12.81h-6.55zM340.35 498.43h31.55v12.81h-31.55zM284.10 510.93h6.55v12.81h-6.55zM334.10 510.93h25.30v12.81h-25.30zM271.60 523.44h12.80v12.81h-12.80zM327.85 523.44h6.55v12.81h-6.55zM315.35 535.95h12.80v12.81h-12.80zM296.60 548.45h12.80v12.81h-12.80zM296.60 560.96h6.55v12.81h-6.55zM259.10 573.46h6.55v12.81h-6.55zM290.35 573.46h6.55v12.81h-6.55zM334.10 585.97h6.55v12.81h-6.55zM502.85 798.57h12.80v12.81h-12.80zM496.60 811.08h19.05v12.81h-19.05zM496.60 823.58h19.05v12.81h-19.05zM484.10 836.09h19.05v12.81h-19.05zM477.85 848.60h19.05v12.81h-19.05zM477.85 861.10h12.80v12.81h-12.80z"/>
<path fill="#4f6f76" d="M309.10 423.39h6.55v12.81h-6.55zM296.60 435.90h6.55v12.81h-6.55zM315.35 435.90h31.55v12.81h-31.55zM334.10 448.40h19.05v12.81h-19.05zM290.35 460.91h6.55v12.81h-6.55zM340.35 460.91h12.80v12.81h-12.80zM290.35 473.42h6.55v12.81h-6.55zM340.35 473.42h19.05v12.81h-19.05zM290.35 485.92h6.55v12.81h-6.55zM340.35 485.92h12.80v12.81h-12.80zM334.10 498.43h6.55v12.81h-6.55zM327.85 510.93h6.55v12.81h-6.55zM284.10 523.44h6.55v12.81h-6.55zM321.60 523.44h6.55v12.81h-6.55zM265.35 535.95h6.55v12.81h-6.55zM284.10 535.95h31.55v12.81h-31.55zM259.10 548.45h6.55v12.81h-6.55zM290.35 548.45h6.55v12.81h-6.55zM259.10 560.96h6.55v12.81h-6.55zM290.35 560.96h6.55v12.81h-6.55zM265.35 573.46h6.55v12.81h-6.55zM277.85 573.46h12.80v12.81h-12.80z"/>
<path fill="#3d626a" d="M302.85 435.90h12.80v12.81h-12.80zM296.60 448.40h6.55v12.81h-6.55zM321.60 448.40h12.80v12.81h-12.80zM327.85 460.91h12.80v12.81h-12.80zM327.85 473.42h12.80v12.81h-12.80zM327.85 485.92h12.80v12.81h-12.80zM290.35 498.43h6.55v12.81h-6.55zM327.85 498.43h6.55v12.81h-6.55zM290.35 510.93h6.55v12.81h-6.55zM321.60 510.93h6.55v12.81h-6.55zM290.35 523.44h6.55v12.81h-6.55zM315.35 523.44h6.55v12.81h-6.55zM284.10 548.45h6.55v12.81h-6.55zM284.10 560.96h6.55v12.81h-6.55zM271.60 573.46h6.55v12.81h-6.55z"/>
<path fill="#2a545f" d="M302.85 448.40h19.05v12.81h-19.05zM296.60 460.91h6.55v12.81h-6.55zM321.60 460.91h6.55v12.81h-6.55zM296.60 473.42h6.55v12.81h-6.55zM321.60 498.43h6.55v12.81h-6.55zM296.60 523.44h19.05v12.81h-19.05zM271.60 535.95h12.80v12.81h-12.80zM265.35 548.45h6.55v12.81h-6.55zM265.35 560.96h6.55v12.81h-6.55z"/>
<path fill="#1a4754" d="M302.85 460.91h19.05v12.81h-19.05zM321.60 473.42h6.55v12.81h-6.55zM296.60 485.92h6.55v12.81h-6.55zM321.60 485.92h6.55v12.81h-6.55zM296.60 498.43h6.55v12.81h-6.55zM296.60 510.93h6.55v12.81h-6.55zM315.35 510.93h6.55v12.81h-6.55zM277.85 548.45h6.55v12.81h-6.55zM271.60 560.96h12.80v12.81h-12.80z"/>
<path fill="#08394a" d="M302.85 473.42h6.55v12.81h-6.55zM315.35 473.42h6.55v12.81h-6.55zM315.35 485.92h6.55v12.81h-6.55zM315.35 498.43h6.55v12.81h-6.55zM302.85 510.93h12.80v12.81h-12.80zM271.60 548.45h6.55v12.81h-6.55z"/>
<path fill="#07384a" d="M309.10 473.42h6.55v12.81h-6.55zM302.85 485.92h6.55v12.81h-6.55zM302.85 498.43h6.55v12.81h-6.55z"/>
<path fill="#073648" d="M309.10 485.92h6.55v12.81h-6.55zM309.10 498.43h6.55v12.81h-6.55z"/>
</g>
<path d="M121.4 111V1011.5" stroke="#2f5560" stroke-width="1.3" fill="none"/>
<path d="M107.2 111.3H121.4" stroke="#2f5560" stroke-width="1.3"/>
<text x="92.6" y="120.3" font-size="27" text-anchor="end" fill="#08323f" textLength="54.0" lengthAdjust="spacingAndGlyphs" >−17.1</text>
<path d="M107.2 411.3H121.4" stroke="#2f5560" stroke-width="1.3"/>
<text x="92.6" y="420.3" font-size="27" text-anchor="end" fill="#08323f" textLength="54.0" lengthAdjust="spacingAndGlyphs" >−17.3</text>
<path d="M107.2 711.3H121.4" stroke="#2f5560" stroke-width="1.3"/>
<text x="92.6" y="720.3" font-size="27" text-anchor="end" fill="#08323f" textLength="54.0" lengthAdjust="spacingAndGlyphs" >−17.5</text>
<path d="M107.2 1011.3H121.4" stroke="#2f5560" stroke-width="1.3"/>
<text x="92.6" y="1020.3" font-size="27" text-anchor="end" fill="#08323f" textLength="54.0" lengthAdjust="spacingAndGlyphs" >−17.7</text>
<path d="M127.3 1098.6H727.3" stroke="#2f5560" stroke-width="1.3" fill="none"/>
<path d="M127.3 1098.6V1113.3" stroke="#2f5560" stroke-width="1.3"/>
<text x="127.3" y="1147.3" font-size="27" text-anchor="middle" fill="#08323f" textLength="66.0" lengthAdjust="spacingAndGlyphs" >145.4</text>
<path d="M277.3 1098.6V1113.3" stroke="#2f5560" stroke-width="1.3"/>
<text x="277.3" y="1147.3" font-size="27" text-anchor="middle" fill="#08323f" textLength="66.0" lengthAdjust="spacingAndGlyphs" >145.6</text>
<path d="M427.3 1098.6V1113.3" stroke="#2f5560" stroke-width="1.3"/>
<text x="427.3" y="1147.3" font-size="27" text-anchor="middle" fill="#08323f" textLength="66.0" lengthAdjust="spacingAndGlyphs" >145.8</text>
<path d="M577.3 1098.6V1113.3" stroke="#2f5560" stroke-width="1.3"/>
<text x="577.3" y="1147.3" font-size="27" text-anchor="middle" fill="#08323f" textLength="66.0" lengthAdjust="spacingAndGlyphs" >146.0</text>
<path d="M727.3 1098.6V1113.3" stroke="#2f5560" stroke-width="1.3"/>
<text x="727.3" y="1147.3" font-size="27" text-anchor="middle" fill="#08323f" textLength="66.0" lengthAdjust="spacingAndGlyphs" >146.2</text>
<circle cx="221.8" cy="111.0" r="12.3" fill="none" stroke="#d55e00" stroke-width="6.9"/>
<path d="M173.2 342.6L196.6 366.0M173.2 366.0L196.6 342.6" stroke="#d55e00" stroke-width="6.6" stroke-linecap="round" fill="none"/>
<circle cx="191.3" cy="484.6" r="12.3" fill="none" stroke="#d55e00" stroke-width="6.9"/>
<path d="M184.8 481.3L208.2 504.7M184.8 504.7L208.2 481.3" stroke="#d55e00" stroke-width="6.6" stroke-linecap="round" fill="none"/>
<path d="M234.2 453.6L257.6 477.0M234.2 477.0L257.6 453.6" stroke="#0072b2" stroke-width="6.6" stroke-linecap="round" fill="none"/>
<circle cx="231.1" cy="473.1" r="12.3" fill="none" stroke="#d55e00" stroke-width="6.9"/>
<path d="M187.7 525.3L211.1 548.7M187.7 548.7L211.1 525.3" stroke="#d55e00" stroke-width="6.6" stroke-linecap="round" fill="none"/>
<path d="M184.4 534.1L207.8 557.5M184.4 557.5L207.8 534.1" stroke="#d55e00" stroke-width="6.6" stroke-linecap="round" fill="none"/>
<circle cx="277.6" cy="638.7" r="12.3" fill="none" stroke="#d55e00" stroke-width="6.9"/>
<circle cx="321.3" cy="555.7" r="12.3" fill="none" stroke="#56b4e9" stroke-width="6.9"/>
<circle cx="275.5" cy="553.5" r="12.3" fill="none" stroke="#56b4e9" stroke-width="6.9"/>
<circle cx="257.0" cy="562.6" r="12.3" fill="none" stroke="#56b4e9" stroke-width="6.9"/>
<path d="M259.4 509.8L282.8 533.2M259.4 533.2L282.8 509.8" stroke="#56b4e9" stroke-width="6.6" stroke-linecap="round" fill="none"/>
<path d="M256.1 522.5L279.5 545.9M256.1 545.9L279.5 522.5" stroke="#56b4e9" stroke-width="6.6" stroke-linecap="round" fill="none"/>
<path d="M251.3 534.3L274.7 557.7M251.3 557.7L274.7 534.3" stroke="#56b4e9" stroke-width="6.6" stroke-linecap="round" fill="none"/>
<path d="M245.9 550.3L269.3 573.7M245.9 573.7L269.3 550.3" stroke="#56b4e9" stroke-width="6.6" stroke-linecap="round" fill="none"/>
<circle cx="510.7" cy="743.7" r="12.3" fill="none" stroke="#cc79a7" stroke-width="6.9"/>
<circle cx="546.8" cy="742.4" r="12.3" fill="none" stroke="#cc79a7" stroke-width="6.9"/>
<circle cx="458.9" cy="789.1" r="12.3" fill="none" stroke="#cc79a7" stroke-width="6.9"/>
<circle cx="474.2" cy="786.1" r="12.3" fill="none" stroke="#cc79a7" stroke-width="6.9"/>
<circle cx="495.4" cy="801.0" r="12.3" fill="none" stroke="#cc79a7" stroke-width="6.9"/>
<circle cx="507.3" cy="809.5" r="12.3" fill="none" stroke="#cc79a7" stroke-width="6.9"/>
<circle cx="481.4" cy="850.2" r="12.3" fill="none" stroke="#cc79a7" stroke-width="6.9"/>
<circle cx="519.2" cy="924.0" r="12.3" fill="none" stroke="#cc79a7" stroke-width="6.9"/>
<circle cx="532.8" cy="919.3" r="12.3" fill="none" stroke="#cc79a7" stroke-width="6.9"/>
<path d="M538.0 891.9L561.4 915.3M538.0 915.3L561.4 891.9" stroke="#cc79a7" stroke-width="6.6" stroke-linecap="round" fill="none"/>
<circle cx="548.0" cy="960.0" r="12.3" fill="none" stroke="#cc79a7" stroke-width="6.9"/>
<circle cx="557.4" cy="976.2" r="12.3" fill="none" stroke="#cc79a7" stroke-width="6.9"/>
<g shape-rendering="crispEdges">
<path fill="#fbf5e4" d="M1293.25 736.04h12.80v12.81h-12.80zM1299.50 748.55h6.55v12.81h-6.55zM1312.00 873.61h25.30v12.81h-25.30zM1305.75 886.11h31.55v12.81h-31.55zM1305.75 898.62h25.30v12.81h-25.30zM1305.75 911.13h19.05v12.81h-19.05zM1305.75 923.63h12.80v12.81h-12.80z"/>
<path fill="#eeecdd" d="M1005.75 23.20h12.80v12.81h-12.80zM999.50 35.71h12.80v12.81h-12.80zM993.25 48.21h37.80v12.81h-37.80zM987.00 60.72h50.30v12.81h-50.30zM987.00 73.22h50.30v12.81h-50.30zM980.75 85.73h62.80v12.81h-62.80zM980.75 98.24h62.80v12.81h-62.80zM980.75 110.74h62.80v12.81h-62.80zM980.75 123.25h62.80v12.81h-62.80zM987.00 135.75h50.30v12.81h-50.30zM993.25 148.26h37.80v12.81h-37.80zM999.50 160.77h25.30v12.81h-25.30zM974.50 535.95h25.30v12.81h-25.30zM968.25 548.45h31.55v12.81h-31.55zM968.25 560.96h25.30v12.81h-25.30zM974.50 573.46h19.05v12.81h-19.05zM1062.00 635.99h12.80v12.81h-12.80zM1062.00 648.50h12.80v12.81h-12.80zM1293.25 723.54h12.80v12.81h-12.80zM1318.25 861.10h19.05v12.81h-19.05zM1337.00 873.61h6.55v12.81h-6.55zM1299.50 886.11h6.55v12.81h-6.55zM1337.00 886.11h12.80v12.81h-12.80zM1299.50 898.62h6.55v12.81h-6.55zM1330.75 898.62h19.05v12.81h-19.05zM1299.50 911.13h6.55v12.81h-6.55zM1324.50 911.13h31.55v12.81h-31.55zM1299.50 923.63h6.55v12.81h-6.55zM1318.25 923.63h50.30v12.81h-50.30zM1299.50 936.14h81.55v12.81h-81.55zM1299.50 948.64h87.80v12.81h-87.80zM1299.50 961.15h94.05v12.81h-94.05zM1299.50 973.66h87.80v12.81h-87.80zM1299.50 986.16h87.80v12.81h-87.80zM1305.75 998.67h75.30v12.81h-75.30zM1318.25 1011.17h50.30v12.81h-50.30zM1337.00 1023.68h12.80v12.81h-12.80z"/>
<path fill="#e3e3d5" d="M962.00 23.20h44.05v12.81h-44.05zM1018.25 23.20h37.80v12.81h-37.80zM955.75 35.71h44.05v12.81h-44.05zM1012.00 35.71h44.05v12.81h-44.05zM955.75 48.21h37.80v12.81h-37.80zM1030.75 48.21h31.55v12.81h-31.55zM955.75 60.72h31.55v12.81h-31.55zM1037.00 60.72h25.30v12.81h-25.30zM955.75 73.22h31.55v12.81h-31.55zM1037.00 73.22h25.30v12.81h-25.30zM955.75 85.73h25.30v12.81h-25.30zM1043.25 85.73h19.05v12.81h-19.05zM955.75 98.24h25.30v12.81h-25.30zM1043.25 98.24h19.05v12.81h-19.05zM955.75 110.74h25.30v12.81h-25.30zM1043.25 110.74h19.05v12.81h-19.05zM955.75 123.25h25.30v12.81h-25.30zM1043.25 123.25h19.05v12.81h-19.05zM955.75 135.75h31.55v12.81h-31.55zM1037.00 135.75h19.05v12.81h-19.05zM962.00 148.26h31.55v12.81h-31.55zM1030.75 148.26h25.30v12.81h-25.30zM962.00 160.77h37.80v12.81h-37.80zM1024.50 160.77h25.30v12.81h-25.30zM968.25 173.27h75.30v12.81h-75.30zM980.75 185.78h56.55v12.81h-56.55zM1012.00 423.39h12.80v12.81h-12.80zM1005.75 435.90h25.30v12.81h-25.30zM1012.00 448.40h19.05v12.81h-19.05zM1012.00 460.91h12.80v12.81h-12.80zM968.25 523.44h37.80v12.81h-37.80zM962.00 535.95h12.80v12.81h-12.80zM999.50 535.95h6.55v12.81h-6.55zM955.75 548.45h12.80v12.81h-12.80zM999.50 548.45h6.55v12.81h-6.55zM955.75 560.96h12.80v12.81h-12.80zM993.25 560.96h12.80v12.81h-12.80zM955.75 573.46h19.05v12.81h-19.05zM993.25 573.46h12.80v12.81h-12.80zM962.00 585.97h37.80v12.81h-37.80zM968.25 598.48h25.30v12.81h-25.30zM1062.00 623.49h12.80v12.81h-12.80zM1055.75 635.99h6.55v12.81h-6.55zM1055.75 648.50h6.55v12.81h-6.55zM1055.75 661.01h19.05v12.81h-19.05zM1293.25 711.03h12.80v12.81h-12.80zM1287.00 723.54h6.55v12.81h-6.55zM1287.00 736.04h6.55v12.81h-6.55zM1305.75 736.04h6.55v12.81h-6.55zM1293.25 748.55h6.55v12.81h-6.55zM1305.75 748.55h6.55v12.81h-6.55zM1299.50 761.05h6.55v12.81h-6.55zM1312.00 861.10h6.55v12.81h-6.55zM1337.00 861.10h6.55v12.81h-6.55zM1305.75 873.61h6.55v12.81h-6.55zM1343.25 873.61h12.80v12.81h-12.80zM1349.50 886.11h19.05v12.81h-19.05zM1293.25 898.62h6.55v12.81h-6.55zM1349.50 898.62h31.55v12.81h-31.55zM1293.25 911.13h6.55v12.81h-6.55zM1355.75 911.13h37.80v12.81h-37.80zM1293.25 923.63h6.55v12.81h-6.55zM1368.25 923.63h31.55v12.81h-31.55zM1293.25 936.14h6.55v12.81h-6.55zM1380.75 936.14h25.30v12.81h-25.30zM1287.00 948.64h12.80v12.81h-12.80zM1387.00 948.64h19.05v12.81h-19.05zM1287.00 961.15h12.80v12.81h-12.80zM1393.25 961.15h12.80v12.81h-12.80zM1287.00 973.66h12.80v12.81h-12.80zM1387.00 973.66h19.05v12.81h-19.05zM1287.00 986.16h12.80v12.81h-12.80zM1387.00 986.16h19.05v12.81h-19.05zM1287.00 998.67h19.05v12.81h-19.05zM1380.75 998.67h25.30v12.81h-25.30zM1293.25 1011.17h25.30v12.81h-25.30zM1368.25 1011.17h37.80v12.81h-37.80zM1299.50 1023.68h37.80v12.81h-37.80zM1349.50 1023.68h50.30v12.81h-50.30zM1305.75 1036.19h87.80v12.81h-87.80zM1318.25 1048.69h62.80v12.81h-62.80zM1330.75 1061.20h31.55v12.81h-31.55z"/>
<path fill="#d5d8cb" d="M930.75 23.20h31.55v12.81h-31.55zM1055.75 23.20h25.30v12.81h-25.30zM930.75 35.71h25.30v12.81h-25.30zM1055.75 35.71h25.30v12.81h-25.30zM930.75 48.21h25.30v12.81h-25.30zM1062.00 48.21h19.05v12.81h-19.05zM930.75 60.72h25.30v12.81h-25.30zM1062.00 60.72h19.05v12.81h-19.05zM930.75 73.22h25.30v12.81h-25.30zM1062.00 73.22h19.05v12.81h-19.05zM930.75 85.73h25.30v12.81h-25.30zM1062.00 85.73h19.05v12.81h-19.05zM930.75 98.24h25.30v12.81h-25.30zM1062.00 98.24h19.05v12.81h-19.05zM930.75 110.74h25.30v12.81h-25.30zM1062.00 110.74h19.05v12.81h-19.05zM930.75 123.25h25.30v12.81h-25.30zM1062.00 123.25h19.05v12.81h-19.05zM930.75 135.75h25.30v12.81h-25.30zM1055.75 135.75h19.05v12.81h-19.05zM930.75 148.26h31.55v12.81h-31.55zM1055.75 148.26h19.05v12.81h-19.05zM930.75 160.77h31.55v12.81h-31.55zM1049.50 160.77h25.30v12.81h-25.30zM930.75 173.27h37.80v12.81h-37.80zM1043.25 173.27h25.30v12.81h-25.30zM930.75 185.78h50.30v12.81h-50.30zM1037.00 185.78h25.30v12.81h-25.30zM937.00 198.28h119.05v12.81h-119.05zM937.00 210.79h112.80v12.81h-112.80zM937.00 223.30h62.80v12.81h-62.80zM943.25 235.80h44.05v12.81h-44.05zM943.25 248.31h25.30v12.81h-25.30zM943.25 260.81h25.30v12.81h-25.30zM943.25 273.32h25.30v12.81h-25.30zM943.25 285.83h37.80v12.81h-37.80zM937.00 298.33h56.55v12.81h-56.55zM937.00 310.84h62.80v12.81h-62.80zM937.00 323.34h69.05v12.81h-69.05zM943.25 335.85h62.80v12.81h-62.80zM943.25 348.36h62.80v12.81h-62.80zM949.50 360.86h56.55v12.81h-56.55zM955.75 373.37h50.30v12.81h-50.30zM968.25 385.87h44.05v12.81h-44.05zM987.00 398.38h31.55v12.81h-31.55zM993.25 410.89h37.80v12.81h-37.80zM993.25 423.39h19.05v12.81h-19.05zM1024.50 423.39h12.80v12.81h-12.80zM999.50 435.90h6.55v12.81h-6.55zM1030.75 435.90h6.55v12.81h-6.55zM999.50 448.40h12.80v12.81h-12.80zM1030.75 448.40h6.55v12.81h-6.55zM999.50 460.91h12.80v12.81h-12.80zM1024.50 460.91h12.80v12.81h-12.80zM999.50 473.42h31.55v12.81h-31.55zM999.50 485.92h31.55v12.81h-31.55zM993.25 498.43h31.55v12.81h-31.55zM968.25 510.93h56.55v12.81h-56.55zM955.75 523.44h12.80v12.81h-12.80zM1005.75 523.44h12.80v12.81h-12.80zM949.50 535.95h12.80v12.81h-12.80zM1005.75 535.95h12.80v12.81h-12.80zM943.25 548.45h12.80v12.81h-12.80zM1005.75 548.45h12.80v12.81h-12.80zM943.25 560.96h12.80v12.81h-12.80zM1005.75 560.96h12.80v12.81h-12.80zM943.25 573.46h12.80v12.81h-12.80zM1005.75 573.46h6.55v12.81h-6.55zM949.50 585.97h12.80v12.81h-12.80zM999.50 585.97h12.80v12.81h-12.80zM949.50 598.48h19.05v12.81h-19.05zM993.25 598.48h19.05v12.81h-19.05zM955.75 610.98h50.30v12.81h-50.30zM1055.75 610.98h12.80v12.81h-12.80zM962.00 623.49h31.55v12.81h-31.55zM1055.75 623.49h6.55v12.81h-6.55zM1049.50 635.99h6.55v12.81h-6.55zM1074.50 635.99h6.55v12.81h-6.55zM1049.50 648.50h6.55v12.81h-6.55zM1074.50 648.50h6.55v12.81h-6.55zM1049.50 661.01h6.55v12.81h-6.55zM1074.50 661.01h6.55v12.81h-6.55zM1055.75 673.51h25.30v12.81h-25.30zM1293.25 698.52h12.80v12.81h-12.80zM1287.00 711.03h6.55v12.81h-6.55zM1305.75 723.54h6.55v12.81h-6.55zM1305.75 761.05h6.55v12.81h-6.55zM1324.50 848.60h19.05v12.81h-19.05zM1343.25 861.10h19.05v12.81h-19.05zM1299.50 873.61h6.55v12.81h-6.55zM1355.75 873.61h25.30v12.81h-25.30zM1293.25 886.11h6.55v12.81h-6.55zM1368.25 886.11h25.30v12.81h-25.30zM1380.75 898.62h25.30v12.81h-25.30zM1393.25 911.13h19.05v12.81h-19.05zM1287.00 923.63h6.55v12.81h-6.55zM1399.50 923.63h12.80v12.81h-12.80zM1287.00 936.14h6.55v12.81h-6.55zM1405.75 936.14h12.80v12.81h-12.80zM1280.75 948.64h6.55v12.81h-6.55zM1405.75 948.64h12.80v12.81h-12.80zM1280.75 961.15h6.55v12.81h-6.55zM1405.75 961.15h19.05v12.81h-19.05zM1274.50 973.66h12.80v12.81h-12.80zM1405.75 973.66h19.05v12.81h-19.05zM1274.50 986.16h12.80v12.81h-12.80zM1405.75 986.16h19.05v12.81h-19.05zM1274.50 998.67h12.80v12.81h-12.80zM1405.75 998.67h19.05v12.81h-19.05zM1274.50 1011.17h19.05v12.81h-19.05zM1405.75 1011.17h19.05v12.81h-19.05zM1280.75 1023.68h19.05v12.81h-19.05zM1399.50 1023.68h19.05v12.81h-19.05zM1287.00 1036.19h19.05v12.81h-19.05zM1393.25 1036.19h25.30v12.81h-25.30zM1293.25 1048.69h25.30v12.81h-25.30zM1380.75 1048.69h31.55v12.81h-31.55zM1299.50 1061.20h31.55v12.81h-31.55zM1362.00 1061.20h44.05v12.81h-44.05zM1312.00 1073.70h81.55v12.81h-81.55zM1324.50 1086.21h50.30v12.81h-50.30z"/>
<path fill="#c8cdc3" d="M912.00 23.20h19.05v12.81h-19.05zM1080.75 23.20h19.05v12.81h-19.05zM912.00 35.71h19.05v12.81h-19.05zM1080.75 35.71h19.05v12.81h-19.05zM912.00 48.21h19.05v12.81h-19.05zM1080.75 48.21h19.05v12.81h-19.05zM912.00 60.72h19.05v12.81h-19.05zM1080.75 60.72h19.05v12.81h-19.05zM912.00 73.22h19.05v12.81h-19.05zM1080.75 73.22h19.05v12.81h-19.05zM912.00 85.73h19.05v12.81h-19.05zM1080.75 85.73h19.05v12.81h-19.05zM912.00 98.24h19.05v12.81h-19.05zM1080.75 98.24h19.05v12.81h-19.05zM912.00 110.74h19.05v12.81h-19.05zM1080.75 110.74h19.05v12.81h-19.05zM912.00 123.25h19.05v12.81h-19.05zM1080.75 123.25h19.05v12.81h-19.05zM912.00 135.75h19.05v12.81h-19.05zM1074.50 135.75h19.05v12.81h-19.05zM912.00 148.26h19.05v12.81h-19.05zM1074.50 148.26h19.05v12.81h-19.05zM912.00 160.77h19.05v12.81h-19.05zM1074.50 160.77h19.05v12.81h-19.05zM912.00 173.27h19.05v12.81h-19.05zM1068.25 173.27h19.05v12.81h-19.05zM912.00 185.78h19.05v12.81h-19.05zM1062.00 185.78h25.30v12.81h-25.30zM912.00 198.28h25.30v12.81h-25.30zM1055.75 198.28h25.30v12.81h-25.30zM912.00 210.79h25.30v12.81h-25.30zM1049.50 210.79h25.30v12.81h-25.30zM912.00 223.30h25.30v12.81h-25.30zM999.50 223.30h75.30v12.81h-75.30zM912.00 235.80h31.55v12.81h-31.55zM987.00 235.80h81.55v12.81h-81.55zM912.00 248.31h31.55v12.81h-31.55zM968.25 248.31h100.30v12.81h-100.30zM912.00 260.81h31.55v12.81h-31.55zM968.25 260.81h94.05v12.81h-94.05zM912.00 273.32h31.55v12.81h-31.55zM968.25 273.32h94.05v12.81h-94.05zM912.00 285.83h31.55v12.81h-31.55zM980.75 285.83h75.30v12.81h-75.30zM912.00 298.33h25.30v12.81h-25.30zM993.25 298.33h62.80v12.81h-62.80zM912.00 310.84h25.30v12.81h-25.30zM999.50 310.84h56.55v12.81h-56.55zM912.00 323.34h25.30v12.81h-25.30zM1005.75 323.34h50.30v12.81h-50.30zM912.00 335.85h31.55v12.81h-31.55zM1005.75 335.85h44.05v12.81h-44.05zM912.00 348.36h31.55v12.81h-31.55zM1005.75 348.36h44.05v12.81h-44.05zM918.25 360.86h31.55v12.81h-31.55zM1005.75 360.86h44.05v12.81h-44.05zM918.25 373.37h37.80v12.81h-37.80zM1005.75 373.37h37.80v12.81h-37.80zM924.50 385.87h44.05v12.81h-44.05zM1012.00 385.87h31.55v12.81h-31.55zM930.75 398.38h56.55v12.81h-56.55zM1018.25 398.38h25.30v12.81h-25.30zM943.25 410.89h50.30v12.81h-50.30zM1030.75 410.89h12.80v12.81h-12.80zM968.25 423.39h25.30v12.81h-25.30zM1037.00 423.39h12.80v12.81h-12.80zM980.75 435.90h19.05v12.81h-19.05zM1037.00 435.90h6.55v12.81h-6.55zM987.00 448.40h12.80v12.81h-12.80zM1037.00 448.40h6.55v12.81h-6.55zM993.25 460.91h6.55v12.81h-6.55zM1037.00 460.91h6.55v12.81h-6.55zM993.25 473.42h6.55v12.81h-6.55zM1030.75 473.42h12.80v12.81h-12.80zM987.00 485.92h12.80v12.81h-12.80zM1030.75 485.92h12.80v12.81h-12.80zM943.25 498.43h50.30v12.81h-50.30zM1024.50 498.43h12.80v12.81h-12.80zM937.00 510.93h31.55v12.81h-31.55zM1024.50 510.93h12.80v12.81h-12.80zM930.75 523.44h25.30v12.81h-25.30zM1018.25 523.44h12.80v12.81h-12.80zM930.75 535.95h19.05v12.81h-19.05zM1018.25 535.95h12.80v12.81h-12.80zM930.75 548.45h12.80v12.81h-12.80zM1018.25 548.45h6.55v12.81h-6.55zM930.75 560.96h12.80v12.81h-12.80zM1018.25 560.96h6.55v12.81h-6.55zM930.75 573.46h12.80v12.81h-12.80zM1012.00 573.46h12.80v12.81h-12.80zM930.75 585.97h19.05v12.81h-19.05zM1012.00 585.97h6.55v12.81h-6.55zM930.75 598.48h19.05v12.81h-19.05zM1012.00 598.48h6.55v12.81h-6.55zM1062.00 598.48h6.55v12.81h-6.55zM937.00 610.98h19.05v12.81h-19.05zM1005.75 610.98h12.80v12.81h-12.80zM1049.50 610.98h6.55v12.81h-6.55zM1068.25 610.98h6.55v12.81h-6.55zM943.25 623.49h19.05v12.81h-19.05zM993.25 623.49h19.05v12.81h-19.05zM1049.50 623.49h6.55v12.81h-6.55zM1074.50 623.49h6.55v12.81h-6.55zM949.50 635.99h56.55v12.81h-56.55zM1043.25 635.99h6.55v12.81h-6.55zM955.75 648.50h37.80v12.81h-37.80zM1043.25 648.50h6.55v12.81h-6.55zM1080.75 648.50h6.55v12.81h-6.55zM1043.25 661.01h6.55v12.81h-6.55zM1080.75 661.01h6.55v12.81h-6.55zM1043.25 673.51h12.80v12.81h-12.80zM1080.75 673.51h6.55v12.81h-6.55zM1043.25 686.02h37.80v12.81h-37.80zM1055.75 698.52h19.05v12.81h-19.05zM1287.00 698.52h6.55v12.81h-6.55zM1305.75 711.03h6.55v12.81h-6.55zM1280.75 723.54h6.55v12.81h-6.55zM1318.25 848.60h6.55v12.81h-6.55zM1343.25 848.60h25.30v12.81h-25.30zM1362.00 861.10h37.80v12.81h-37.80zM1293.25 873.61h6.55v12.81h-6.55zM1380.75 873.61h25.30v12.81h-25.30zM1393.25 886.11h25.30v12.81h-25.30zM1287.00 898.62h6.55v12.81h-6.55zM1405.75 898.62h19.05v12.81h-19.05zM1287.00 911.13h6.55v12.81h-6.55zM1412.00 911.13h12.80v12.81h-12.80zM1280.75 923.63h6.55v12.81h-6.55zM1412.00 923.63h19.05v12.81h-19.05zM1280.75 936.14h6.55v12.81h-6.55zM1418.25 936.14h19.05v12.81h-19.05zM1274.50 948.64h6.55v12.81h-6.55zM1418.25 948.64h19.05v12.81h-19.05zM1268.25 961.15h12.80v12.81h-12.80zM1424.50 961.15h19.05v12.81h-19.05zM1262.00 973.66h12.80v12.81h-12.80zM1424.50 973.66h19.05v12.81h-19.05zM1262.00 986.16h12.80v12.81h-12.80zM1424.50 986.16h19.05v12.81h-19.05zM1262.00 998.67h12.80v12.81h-12.80zM1424.50 998.67h19.05v12.81h-19.05zM1262.00 1011.17h12.80v12.81h-12.80zM1424.50 1011.17h19.05v12.81h-19.05zM1268.25 1023.68h12.80v12.81h-12.80zM1418.25 1023.68h25.30v12.81h-25.30zM1268.25 1036.19h19.05v12.81h-19.05zM1418.25 1036.19h25.30v12.81h-25.30zM1274.50 1048.69h19.05v12.81h-19.05zM1412.00 1048.69h25.30v12.81h-25.30zM980.75 1061.20h56.55v12.81h-56.55zM1280.75 1061.20h19.05v12.81h-19.05zM1405.75 1061.20h25.30v12.81h-25.30zM968.25 1073.70h87.80v12.81h-87.80zM1287.00 1073.70h25.30v12.81h-25.30zM1393.25 1073.70h37.80v12.81h-37.80zM955.75 1086.21h112.80v12.81h-112.80zM1293.25 1086.21h31.55v12.81h-31.55zM1374.50 1086.21h50.30v12.81h-50.30z"/>
<path fill="#bcc3bb" d="M1099.50 23.20h25.30v12.81h-25.30zM1099.50 35.71h25.30v12.81h-25.30zM1099.50 48.21h25.30v12.81h-25.30zM1099.50 60.72h25.30v12.81h-25.30zM1099.50 73.22h25.30v12.81h-25.30zM1099.50 85.73h19.05v12.81h-19.05zM1099.50 98.24h19.05v12.81h-19.05zM1099.50 110.74h19.05v12.81h-19.05zM1099.50 123.25h19.05v12.81h-19.05zM1093.25 135.75h19.05v12.81h-19.05zM1093.25 148.26h19.05v12.81h-19.05zM1093.25 160.77h19.05v12.81h-19.05zM1087.00 173.27h19.05v12.81h-19.05zM1087.00 185.78h19.05v12.81h-19.05zM1080.75 198.28h19.05v12.81h-19.05zM1074.50 210.79h19.05v12.81h-19.05zM1074.50 223.30h19.05v12.81h-19.05zM1068.25 235.80h19.05v12.81h-19.05zM1068.25 248.31h19.05v12.81h-19.05zM1062.00 260.81h19.05v12.81h-19.05zM1062.00 273.32h19.05v12.81h-19.05zM1055.75 285.83h19.05v12.81h-19.05zM1055.75 298.33h19.05v12.81h-19.05zM1055.75 310.84h19.05v12.81h-19.05zM1055.75 323.34h12.80v12.81h-12.80zM1049.50 335.85h19.05v12.81h-19.05zM1049.50 348.36h19.05v12.81h-19.05zM912.00 360.86h6.55v12.81h-6.55zM1049.50 360.86h12.80v12.81h-12.80zM912.00 373.37h6.55v12.81h-6.55zM1043.25 373.37h19.05v12.81h-19.05zM912.00 385.87h12.80v12.81h-12.80zM1043.25 385.87h19.05v12.81h-19.05zM912.00 398.38h19.05v12.81h-19.05zM1043.25 398.38h12.80v12.81h-12.80zM912.00 410.89h31.55v12.81h-31.55zM1043.25 410.89h12.80v12.81h-12.80zM912.00 423.39h56.55v12.81h-56.55zM1049.50 423.39h6.55v12.81h-6.55zM912.00 435.90h69.05v12.81h-69.05zM1043.25 435.90h12.80v12.81h-12.80zM912.00 448.40h75.30v12.81h-75.30zM1043.25 448.40h12.80v12.81h-12.80zM912.00 460.91h81.55v12.81h-81.55zM1043.25 460.91h6.55v12.81h-6.55zM912.00 473.42h81.55v12.81h-81.55zM1043.25 473.42h6.55v12.81h-6.55zM912.00 485.92h75.30v12.81h-75.30zM1043.25 485.92h6.55v12.81h-6.55zM912.00 498.43h31.55v12.81h-31.55zM1037.00 498.43h12.80v12.81h-12.80zM912.00 510.93h25.30v12.81h-25.30zM1037.00 510.93h6.55v12.81h-6.55zM912.00 523.44h19.05v12.81h-19.05zM1030.75 523.44h12.80v12.81h-12.80zM912.00 535.95h19.05v12.81h-19.05zM1030.75 535.95h6.55v12.81h-6.55zM912.00 548.45h19.05v12.81h-19.05zM1024.50 548.45h12.80v12.81h-12.80zM912.00 560.96h19.05v12.81h-19.05zM1024.50 560.96h6.55v12.81h-6.55zM912.00 573.46h19.05v12.81h-19.05zM1024.50 573.46h6.55v12.81h-6.55zM912.00 585.97h19.05v12.81h-19.05zM1018.25 585.97h12.80v12.81h-12.80zM912.00 598.48h19.05v12.81h-19.05zM1018.25 598.48h12.80v12.81h-12.80zM1049.50 598.48h12.80v12.81h-12.80zM1068.25 598.48h6.55v12.81h-6.55zM918.25 610.98h19.05v12.81h-19.05zM1018.25 610.98h12.80v12.81h-12.80zM1043.25 610.98h6.55v12.81h-6.55zM1074.50 610.98h6.55v12.81h-6.55zM918.25 623.49h25.30v12.81h-25.30zM1012.00 623.49h37.80v12.81h-37.80zM924.50 635.99h25.30v12.81h-25.30zM1005.75 635.99h37.80v12.81h-37.80zM1080.75 635.99h6.55v12.81h-6.55zM930.75 648.50h25.30v12.81h-25.30zM993.25 648.50h50.30v12.81h-50.30zM937.00 661.01h106.55v12.81h-106.55zM943.25 673.51h100.30v12.81h-100.30zM1087.00 673.51h6.55v12.81h-6.55zM1024.50 686.02h19.05v12.81h-19.05zM1080.75 686.02h6.55v12.81h-6.55zM1293.25 686.02h12.80v12.81h-12.80zM1037.00 698.52h19.05v12.81h-19.05zM1074.50 698.52h12.80v12.81h-12.80zM1305.75 698.52h6.55v12.81h-6.55zM1043.25 711.03h37.80v12.81h-37.80zM1280.75 711.03h6.55v12.81h-6.55zM1062.00 723.54h6.55v12.81h-6.55zM1280.75 736.04h6.55v12.81h-6.55zM1287.00 748.55h6.55v12.81h-6.55zM1293.25 761.05h6.55v12.81h-6.55zM1337.00 836.09h19.05v12.81h-19.05zM1368.25 848.60h50.30v12.81h-50.30zM1305.75 861.10h6.55v12.81h-6.55zM1399.50 861.10h25.30v12.81h-25.30zM1405.75 873.61h25.30v12.81h-25.30zM1287.00 886.11h6.55v12.81h-6.55zM1418.25 886.11h19.05v12.81h-19.05zM1424.50 898.62h25.30v12.81h-25.30zM1280.75 911.13h6.55v12.81h-6.55zM1424.50 911.13h31.55v12.81h-31.55zM1430.75 923.63h31.55v12.81h-31.55zM1274.50 936.14h6.55v12.81h-6.55zM1437.00 936.14h37.80v12.81h-37.80zM1262.00 948.64h12.80v12.81h-12.80zM1437.00 948.64h37.80v12.81h-37.80zM1255.75 961.15h12.80v12.81h-12.80zM1443.25 961.15h25.30v12.81h-25.30zM1255.75 973.66h6.55v12.81h-6.55zM1443.25 973.66h19.05v12.81h-19.05zM1255.75 986.16h6.55v12.81h-6.55zM1443.25 986.16h19.05v12.81h-19.05zM1249.50 998.67h12.80v12.81h-12.80zM1443.25 998.67h12.80v12.81h-12.80zM955.75 1011.17h56.55v12.81h-56.55zM1249.50 1011.17h12.80v12.81h-12.80zM1443.25 1011.17h12.80v12.81h-12.80zM918.25 1023.68h112.80v12.81h-112.80zM1255.75 1023.68h12.80v12.81h-12.80zM1443.25 1023.68h12.80v12.81h-12.80zM912.00 1036.19h137.80v12.81h-137.80zM1255.75 1036.19h12.80v12.81h-12.80zM1443.25 1036.19h6.55v12.81h-6.55zM912.00 1048.69h150.30v12.81h-150.30zM1255.75 1048.69h19.05v12.81h-19.05zM1437.00 1048.69h12.80v12.81h-12.80zM912.00 1061.20h69.05v12.81h-69.05zM1037.00 1061.20h37.80v12.81h-37.80zM1262.00 1061.20h19.05v12.81h-19.05zM1430.75 1061.20h19.05v12.81h-19.05zM912.00 1073.70h56.55v12.81h-56.55zM1055.75 1073.70h37.80v12.81h-37.80zM1268.25 1073.70h19.05v12.81h-19.05zM1430.75 1073.70h19.05v12.81h-19.05zM912.00 1086.21h44.05v12.81h-44.05zM1068.25 1086.21h56.55v12.81h-56.55zM1274.50 1086.21h19.05v12.81h-19.05zM1424.50 1086.21h25.30v12.81h-25.30z"/>
<path fill="#aeb8b2" d="M1124.50 23.20h25.30v12.81h-25.30zM1124.50 35.71h25.30v12.81h-25.30zM1124.50 48.21h25.30v12.81h-25.30zM1124.50 60.72h25.30v12.81h-25.30zM1124.50 73.22h25.30v12.81h-25.30zM1118.25 85.73h31.55v12.81h-31.55zM1118.25 98.24h25.30v12.81h-25.30zM1118.25 110.74h25.30v12.81h-25.30zM1118.25 123.25h25.30v12.81h-25.30zM1112.00 135.75h25.30v12.81h-25.30zM1112.00 148.26h25.30v12.81h-25.30zM1112.00 160.77h19.05v12.81h-19.05zM1105.75 173.27h19.05v12.81h-19.05zM1105.75 185.78h19.05v12.81h-19.05zM1099.50 198.28h19.05v12.81h-19.05zM1093.25 210.79h19.05v12.81h-19.05zM1093.25 223.30h19.05v12.81h-19.05zM1087.00 235.80h19.05v12.81h-19.05zM1087.00 248.31h19.05v12.81h-19.05zM1080.75 260.81h19.05v12.81h-19.05zM1080.75 273.32h12.80v12.81h-12.80zM1074.50 285.83h19.05v12.81h-19.05zM1074.50 298.33h12.80v12.81h-12.80zM1074.50 310.84h12.80v12.81h-12.80zM1068.25 323.34h19.05v12.81h-19.05zM1068.25 335.85h12.80v12.81h-12.80zM1068.25 348.36h12.80v12.81h-12.80zM1062.00 360.86h12.80v12.81h-12.80zM1062.00 373.37h12.80v12.81h-12.80zM1062.00 385.87h6.55v12.81h-6.55zM1055.75 398.38h12.80v12.81h-12.80zM1055.75 410.89h12.80v12.81h-12.80zM1055.75 423.39h6.55v12.81h-6.55zM1055.75 435.90h6.55v12.81h-6.55zM1055.75 448.40h6.55v12.81h-6.55zM1049.50 460.91h12.80v12.81h-12.80zM1049.50 473.42h6.55v12.81h-6.55zM1049.50 485.92h6.55v12.81h-6.55zM1049.50 498.43h6.55v12.81h-6.55zM1043.25 510.93h12.80v12.81h-12.80zM1043.25 523.44h6.55v12.81h-6.55zM1037.00 535.95h12.80v12.81h-12.80zM1037.00 548.45h12.80v12.81h-12.80zM1030.75 560.96h12.80v12.81h-12.80zM1030.75 573.46h12.80v12.81h-12.80zM1030.75 585.97h6.55v12.81h-6.55zM1043.25 585.97h25.30v12.81h-25.30zM1030.75 598.48h19.05v12.81h-19.05zM912.00 610.98h6.55v12.81h-6.55zM1030.75 610.98h12.80v12.81h-12.80zM912.00 623.49h6.55v12.81h-6.55zM1080.75 623.49h6.55v12.81h-6.55zM912.00 635.99h12.80v12.81h-12.80zM912.00 648.50h19.05v12.81h-19.05zM1087.00 648.50h6.55v12.81h-6.55zM912.00 661.01h25.30v12.81h-25.30zM1087.00 661.01h6.55v12.81h-6.55zM912.00 673.51h31.55v12.81h-31.55zM1293.25 673.51h19.05v12.81h-19.05zM912.00 686.02h112.80v12.81h-112.80zM1087.00 686.02h12.80v12.81h-12.80zM1287.00 686.02h6.55v12.81h-6.55zM1305.75 686.02h6.55v12.81h-6.55zM918.25 698.52h119.05v12.81h-119.05zM1087.00 698.52h6.55v12.81h-6.55zM1280.75 698.52h6.55v12.81h-6.55zM924.50 711.03h119.05v12.81h-119.05zM1080.75 711.03h12.80v12.81h-12.80zM930.75 723.54h50.30v12.81h-50.30zM1024.50 723.54h37.80v12.81h-37.80zM1068.25 723.54h25.30v12.81h-25.30zM1312.00 723.54h6.55v12.81h-6.55zM1037.00 736.04h50.30v12.81h-50.30zM1312.00 736.04h6.55v12.81h-6.55zM1312.00 748.55h6.55v12.81h-6.55zM1405.75 811.08h12.80v12.81h-12.80zM1374.50 823.58h69.05v12.81h-69.05zM1324.50 836.09h12.80v12.81h-12.80zM1355.75 836.09h112.80v12.81h-112.80zM1312.00 848.60h6.55v12.81h-6.55zM1418.25 848.60h50.30v12.81h-50.30zM1299.50 861.10h6.55v12.81h-6.55zM1424.50 861.10h50.30v12.81h-50.30zM1287.00 873.61h6.55v12.81h-6.55zM1430.75 873.61h44.05v12.81h-44.05zM1437.00 886.11h37.80v12.81h-37.80zM1280.75 898.62h6.55v12.81h-6.55zM1449.50 898.62h31.55v12.81h-31.55zM1455.75 911.13h25.30v12.81h-25.30zM1274.50 923.63h6.55v12.81h-6.55zM1462.00 923.63h19.05v12.81h-19.05zM912.00 936.14h50.30v12.81h-50.30zM1262.00 936.14h12.80v12.81h-12.80zM1474.50 936.14h19.05v12.81h-19.05zM912.00 948.64h75.30v12.81h-75.30zM1255.75 948.64h6.55v12.81h-6.55zM1480.75 948.64h12.80v12.81h-12.80zM912.00 961.15h87.80v12.81h-87.80zM1249.50 961.15h6.55v12.81h-6.55zM1487.00 961.15h12.80v12.81h-12.80zM912.00 973.66h106.55v12.81h-106.55zM1249.50 973.66h6.55v12.81h-6.55zM1487.00 973.66h19.05v12.81h-19.05zM912.00 986.16h119.05v12.81h-119.05zM1243.25 986.16h12.80v12.81h-12.80zM912.00 998.67h131.55v12.81h-131.55zM1243.25 998.67h6.55v12.81h-6.55zM912.00 1011.17h44.05v12.81h-44.05zM1012.00 1011.17h44.05v12.81h-44.05zM1237.00 1011.17h12.80v12.81h-12.80zM912.00 1023.68h6.55v12.81h-6.55zM1030.75 1023.68h31.55v12.81h-31.55zM1237.00 1023.68h19.05v12.81h-19.05zM1049.50 1036.19h25.30v12.81h-25.30zM1237.00 1036.19h19.05v12.81h-19.05zM1062.00 1048.69h31.55v12.81h-31.55zM1237.00 1048.69h19.05v12.81h-19.05zM1074.50 1061.20h50.30v12.81h-50.30zM1237.00 1061.20h25.30v12.81h-25.30zM1480.75 1061.20h12.80v12.81h-12.80zM1093.25 1073.70h50.30v12.81h-50.30zM1237.00 1073.70h31.55v12.81h-31.55zM1480.75 1073.70h12.80v12.81h-12.80zM1124.50 1086.21h37.80v12.81h-37.80zM1237.00 1086.21h37.80v12.81h-37.80z"/>
<path fill="#a1adaa" d="M1149.50 23.20h50.30v12.81h-50.30zM1149.50 35.71h44.05v12.81h-44.05zM1149.50 48.21h37.80v12.81h-37.80zM1149.50 60.72h37.80v12.81h-37.80zM1149.50 73.22h31.55v12.81h-31.55zM1149.50 85.73h31.55v12.81h-31.55zM1143.25 98.24h31.55v12.81h-31.55zM1143.25 110.74h31.55v12.81h-31.55zM1143.25 123.25h25.30v12.81h-25.30zM1137.00 135.75h31.55v12.81h-31.55zM1137.00 148.26h25.30v12.81h-25.30zM1130.75 160.77h25.30v12.81h-25.30zM1124.50 173.27h25.30v12.81h-25.30zM1124.50 185.78h25.30v12.81h-25.30zM1118.25 198.28h25.30v12.81h-25.30zM1112.00 210.79h25.30v12.81h-25.30zM1112.00 223.30h19.05v12.81h-19.05zM1105.75 235.80h19.05v12.81h-19.05zM1105.75 248.31h19.05v12.81h-19.05zM1099.50 260.81h19.05v12.81h-19.05zM1093.25 273.32h19.05v12.81h-19.05zM1093.25 285.83h12.80v12.81h-12.80zM1087.00 298.33h19.05v12.81h-19.05zM1087.00 310.84h12.80v12.81h-12.80zM1087.00 323.34h12.80v12.81h-12.80zM1080.75 335.85h12.80v12.81h-12.80zM1080.75 348.36h12.80v12.81h-12.80zM1074.50 360.86h12.80v12.81h-12.80zM1074.50 373.37h6.55v12.81h-6.55zM1068.25 385.87h12.80v12.81h-12.80zM1068.25 398.38h12.80v12.81h-12.80zM1068.25 410.89h6.55v12.81h-6.55zM1062.00 423.39h12.80v12.81h-12.80zM1062.00 435.90h6.55v12.81h-6.55zM1062.00 448.40h6.55v12.81h-6.55zM1062.00 460.91h6.55v12.81h-6.55zM1055.75 473.42h12.80v12.81h-12.80zM1055.75 485.92h6.55v12.81h-6.55zM1055.75 498.43h6.55v12.81h-6.55zM1055.75 510.93h6.55v12.81h-6.55zM1049.50 523.44h12.80v12.81h-12.80zM1049.50 535.95h6.55v12.81h-6.55zM1049.50 548.45h6.55v12.81h-6.55zM1043.25 560.96h19.05v12.81h-19.05zM1043.25 573.46h25.30v12.81h-25.30zM1037.00 585.97h6.55v12.81h-6.55zM1068.25 585.97h6.55v12.81h-6.55zM1074.50 598.48h6.55v12.81h-6.55zM1080.75 610.98h6.55v12.81h-6.55zM1087.00 635.99h6.55v12.81h-6.55zM1299.50 648.50h6.55v12.81h-6.55zM1093.25 661.01h6.55v12.81h-6.55zM1293.25 661.01h19.05v12.81h-19.05zM1093.25 673.51h6.55v12.81h-6.55zM1287.00 673.51h6.55v12.81h-6.55zM1099.50 686.02h6.55v12.81h-6.55zM1280.75 686.02h6.55v12.81h-6.55zM1312.00 686.02h6.55v12.81h-6.55zM912.00 698.52h6.55v12.81h-6.55zM1093.25 698.52h12.80v12.81h-12.80zM1312.00 698.52h6.55v12.81h-6.55zM912.00 711.03h12.80v12.81h-12.80zM1093.25 711.03h12.80v12.81h-12.80zM1274.50 711.03h6.55v12.81h-6.55zM1312.00 711.03h6.55v12.81h-6.55zM912.00 723.54h19.05v12.81h-19.05zM980.75 723.54h44.05v12.81h-44.05zM1093.25 723.54h12.80v12.81h-12.80zM1274.50 723.54h6.55v12.81h-6.55zM912.00 736.04h125.30v12.81h-125.30zM1087.00 736.04h12.80v12.81h-12.80zM1274.50 736.04h6.55v12.81h-6.55zM912.00 748.55h187.80v12.81h-187.80zM1280.75 748.55h6.55v12.81h-6.55zM912.00 761.05h94.05v12.81h-94.05zM1030.75 761.05h62.80v12.81h-62.80zM1312.00 761.05h6.55v12.81h-6.55zM912.00 773.56h81.55v12.81h-81.55zM1299.50 773.56h12.80v12.81h-12.80zM1424.50 773.56h12.80v12.81h-12.80zM912.00 786.07h75.30v12.81h-75.30zM1405.75 786.07h37.80v12.81h-37.80zM912.00 798.57h69.05v12.81h-69.05zM1393.25 798.57h50.30v12.81h-50.30zM912.00 811.08h69.05v12.81h-69.05zM1374.50 811.08h31.55v12.81h-31.55zM1418.25 811.08h37.80v12.81h-37.80zM912.00 823.58h69.05v12.81h-69.05zM1343.25 823.58h31.55v12.81h-31.55zM1443.25 823.58h19.05v12.81h-19.05zM912.00 836.09h69.05v12.81h-69.05zM912.00 848.60h75.30v12.81h-75.30zM912.00 861.10h75.30v12.81h-75.30zM912.00 873.61h81.55v12.81h-81.55zM912.00 886.11h87.80v12.81h-87.80zM1280.75 886.11h6.55v12.81h-6.55zM912.00 898.62h94.05v12.81h-94.05zM912.00 911.13h100.30v12.81h-100.30zM1274.50 911.13h6.55v12.81h-6.55zM912.00 923.63h106.55v12.81h-106.55zM1262.00 923.63h12.80v12.81h-12.80zM962.00 936.14h62.80v12.81h-62.80zM1255.75 936.14h6.55v12.81h-6.55zM987.00 948.64h44.05v12.81h-44.05zM1249.50 948.64h6.55v12.81h-6.55zM999.50 961.15h44.05v12.81h-44.05zM1243.25 961.15h6.55v12.81h-6.55zM1018.25 973.66h37.80v12.81h-37.80zM1237.00 973.66h12.80v12.81h-12.80zM1030.75 986.16h31.55v12.81h-31.55zM1230.75 986.16h12.80v12.81h-12.80zM1043.25 998.67h25.30v12.81h-25.30zM1230.75 998.67h12.80v12.81h-12.80zM1055.75 1011.17h25.30v12.81h-25.30zM1224.50 1011.17h12.80v12.81h-12.80zM1062.00 1023.68h37.80v12.81h-37.80zM1224.50 1023.68h12.80v12.81h-12.80zM1074.50 1036.19h50.30v12.81h-50.30zM1218.25 1036.19h19.05v12.81h-19.05zM1093.25 1048.69h75.30v12.81h-75.30zM1212.00 1048.69h25.30v12.81h-25.30zM1124.50 1061.20h112.80v12.81h-112.80zM1143.25 1073.70h94.05v12.81h-94.05zM1162.00 1086.21h75.30v12.81h-75.30z"/>
<path fill="#94a3a2" d="M1199.50 23.20h87.80v12.81h-87.80zM1193.25 35.71h94.05v12.81h-94.05zM1187.00 48.21h106.55v12.81h-106.55zM1187.00 60.72h112.80v12.81h-112.80zM1180.75 73.22h125.30v12.81h-125.30zM1180.75 85.73h119.05v12.81h-119.05zM1174.50 98.24h112.80v12.81h-112.80zM1174.50 110.74h87.80v12.81h-87.80zM1168.25 123.25h75.30v12.81h-75.30zM1168.25 135.75h62.80v12.81h-62.80zM1162.00 148.26h56.55v12.81h-56.55zM1155.75 160.77h56.55v12.81h-56.55zM1149.50 173.27h50.30v12.81h-50.30zM1149.50 185.78h44.05v12.81h-44.05zM1143.25 198.28h37.80v12.81h-37.80zM1137.00 210.79h31.55v12.81h-31.55zM1130.75 223.30h31.55v12.81h-31.55zM1124.50 235.80h25.30v12.81h-25.30zM1124.50 248.31h19.05v12.81h-19.05zM1118.25 260.81h19.05v12.81h-19.05zM1112.00 273.32h19.05v12.81h-19.05zM1105.75 285.83h25.30v12.81h-25.30zM1105.75 298.33h19.05v12.81h-19.05zM1099.50 310.84h19.05v12.81h-19.05zM1099.50 323.34h12.80v12.81h-12.80zM1093.25 335.85h12.80v12.81h-12.80zM1093.25 348.36h12.80v12.81h-12.80zM1087.00 360.86h12.80v12.81h-12.80zM1080.75 373.37h12.80v12.81h-12.80zM1080.75 385.87h12.80v12.81h-12.80zM1080.75 398.38h6.55v12.81h-6.55zM1074.50 410.89h12.80v12.81h-12.80zM1074.50 423.39h6.55v12.81h-6.55zM1068.25 435.90h12.80v12.81h-12.80zM1068.25 448.40h6.55v12.81h-6.55zM1068.25 460.91h6.55v12.81h-6.55zM1068.25 473.42h6.55v12.81h-6.55zM1062.00 485.92h6.55v12.81h-6.55zM1062.00 498.43h6.55v12.81h-6.55zM1062.00 510.93h6.55v12.81h-6.55zM1055.75 535.95h6.55v12.81h-6.55zM1055.75 548.45h6.55v12.81h-6.55zM1062.00 560.96h6.55v12.81h-6.55zM1068.25 573.46h6.55v12.81h-6.55zM1074.50 585.97h6.55v12.81h-6.55zM1087.00 623.49h6.55v12.81h-6.55zM1293.25 635.99h19.05v12.81h-19.05zM1093.25 648.50h6.55v12.81h-6.55zM1287.00 648.50h12.80v12.81h-12.80zM1305.75 648.50h6.55v12.81h-6.55zM1099.50 661.01h6.55v12.81h-6.55zM1287.00 661.01h6.55v12.81h-6.55zM1312.00 661.01h6.55v12.81h-6.55zM1099.50 673.51h6.55v12.81h-6.55zM1280.75 673.51h6.55v12.81h-6.55zM1312.00 673.51h6.55v12.81h-6.55zM1105.75 686.02h6.55v12.81h-6.55zM1105.75 698.52h6.55v12.81h-6.55zM1274.50 698.52h6.55v12.81h-6.55zM1105.75 711.03h6.55v12.81h-6.55zM1105.75 723.54h12.80v12.81h-12.80zM1424.50 723.54h6.55v12.81h-6.55zM1099.50 736.04h19.05v12.81h-19.05zM1418.25 736.04h6.55v12.81h-6.55zM1099.50 748.55h19.05v12.81h-19.05zM1412.00 748.55h19.05v12.81h-19.05zM1005.75 761.05h25.30v12.81h-25.30zM1093.25 761.05h25.30v12.81h-25.30zM1405.75 761.05h25.30v12.81h-25.30zM993.25 773.56h119.05v12.81h-119.05zM1399.50 773.56h25.30v12.81h-25.30zM987.00 786.07h112.80v12.81h-112.80zM1387.00 786.07h19.05v12.81h-19.05zM980.75 798.57h75.30v12.81h-75.30zM1374.50 798.57h19.05v12.81h-19.05zM980.75 811.08h56.55v12.81h-56.55zM1355.75 811.08h19.05v12.81h-19.05zM980.75 823.58h50.30v12.81h-50.30zM1330.75 823.58h12.80v12.81h-12.80zM980.75 836.09h50.30v12.81h-50.30zM1318.25 836.09h6.55v12.81h-6.55zM987.00 848.60h44.05v12.81h-44.05zM987.00 861.10h44.05v12.81h-44.05zM1293.25 861.10h6.55v12.81h-6.55zM993.25 873.61h37.80v12.81h-37.80zM1280.75 873.61h6.55v12.81h-6.55zM999.50 886.11h31.55v12.81h-31.55zM1005.75 898.62h31.55v12.81h-31.55zM1274.50 898.62h6.55v12.81h-6.55zM1012.00 911.13h31.55v12.81h-31.55zM1262.00 911.13h12.80v12.81h-12.80zM1018.25 923.63h31.55v12.81h-31.55zM1255.75 923.63h6.55v12.81h-6.55zM1024.50 936.14h31.55v12.81h-31.55zM1243.25 936.14h12.80v12.81h-12.80zM1030.75 948.64h37.80v12.81h-37.80zM1237.00 948.64h12.80v12.81h-12.80zM1043.25 961.15h44.05v12.81h-44.05zM1230.75 961.15h12.80v12.81h-12.80zM1055.75 973.66h37.80v12.81h-37.80zM1224.50 973.66h12.80v12.81h-12.80zM1062.00 986.16h50.30v12.81h-50.30zM1155.75 986.16h12.80v12.81h-12.80zM1218.25 986.16h12.80v12.81h-12.80zM1068.25 998.67h125.30v12.81h-125.30zM1205.75 998.67h25.30v12.81h-25.30zM1080.75 1011.17h144.05v12.81h-144.05zM1099.50 1023.68h125.30v12.81h-125.30zM1124.50 1036.19h94.05v12.81h-94.05zM1168.25 1048.69h44.05v12.81h-44.05z"/>
<path fill="#86989b" d="M1299.50 85.73h12.80v12.81h-12.80zM1287.00 98.24h25.30v12.81h-25.30zM1262.00 110.74h50.30v12.81h-50.30zM1243.25 123.25h75.30v12.81h-75.30zM1230.75 135.75h94.05v12.81h-94.05zM1218.25 148.26h112.80v12.81h-112.80zM1212.00 160.77h125.30v12.81h-125.30zM1199.50 173.27h137.80v12.81h-137.80zM1193.25 185.78h144.05v12.81h-144.05zM1368.25 185.78h12.80v12.81h-12.80zM1180.75 198.28h162.80v12.81h-162.80zM1368.25 198.28h12.80v12.81h-12.80zM1168.25 210.79h175.30v12.81h-175.30zM1162.00 223.30h181.55v12.81h-181.55zM1149.50 235.80h194.05v12.81h-194.05zM1143.25 248.31h200.30v12.81h-200.30zM1137.00 260.81h206.55v12.81h-206.55zM1418.25 260.81h12.80v12.81h-12.80zM1130.75 273.32h219.05v12.81h-219.05zM1424.50 273.32h12.80v12.81h-12.80zM1130.75 285.83h37.80v12.81h-37.80zM1237.00 285.83h112.80v12.81h-112.80zM1430.75 285.83h12.80v12.81h-12.80zM1124.50 298.33h25.30v12.81h-25.30zM1249.50 298.33h100.30v12.81h-100.30zM1430.75 298.33h12.80v12.81h-12.80zM1118.25 310.84h25.30v12.81h-25.30zM1255.75 310.84h94.05v12.81h-94.05zM1112.00 323.34h19.05v12.81h-19.05zM1268.25 323.34h81.55v12.81h-81.55zM1105.75 335.85h19.05v12.81h-19.05zM1274.50 335.85h69.05v12.81h-69.05zM1105.75 348.36h12.80v12.81h-12.80zM1280.75 348.36h56.55v12.81h-56.55zM1099.50 360.86h12.80v12.81h-12.80zM1293.25 360.86h37.80v12.81h-37.80zM1349.50 360.86h19.05v12.81h-19.05zM1093.25 373.37h19.05v12.81h-19.05zM1349.50 373.37h19.05v12.81h-19.05zM1093.25 385.87h12.80v12.81h-12.80zM1355.75 385.87h19.05v12.81h-19.05zM1087.00 398.38h12.80v12.81h-12.80zM1087.00 410.89h6.55v12.81h-6.55zM1080.75 423.39h12.80v12.81h-12.80zM1080.75 435.90h6.55v12.81h-6.55zM1074.50 448.40h6.55v12.81h-6.55zM1074.50 460.91h6.55v12.81h-6.55zM1068.25 485.92h6.55v12.81h-6.55zM1068.25 498.43h6.55v12.81h-6.55zM1062.00 523.44h6.55v12.81h-6.55zM1062.00 535.95h6.55v12.81h-6.55zM1062.00 548.45h6.55v12.81h-6.55zM1068.25 560.96h6.55v12.81h-6.55zM1074.50 573.46h6.55v12.81h-6.55zM1080.75 598.48h6.55v12.81h-6.55zM1087.00 610.98h6.55v12.81h-6.55zM1293.25 610.98h19.05v12.81h-19.05zM1287.00 623.49h31.55v12.81h-31.55zM1093.25 635.99h6.55v12.81h-6.55zM1280.75 635.99h12.80v12.81h-12.80zM1312.00 635.99h6.55v12.81h-6.55zM1099.50 648.50h6.55v12.81h-6.55zM1280.75 648.50h6.55v12.81h-6.55zM1312.00 648.50h6.55v12.81h-6.55zM1105.75 661.01h6.55v12.81h-6.55zM1280.75 661.01h6.55v12.81h-6.55zM1318.25 661.01h6.55v12.81h-6.55zM1418.25 661.01h6.55v12.81h-6.55zM1105.75 673.51h6.55v12.81h-6.55zM1318.25 673.51h6.55v12.81h-6.55zM1418.25 673.51h12.80v12.81h-12.80zM1112.00 686.02h6.55v12.81h-6.55zM1274.50 686.02h6.55v12.81h-6.55zM1318.25 686.02h6.55v12.81h-6.55zM1412.00 686.02h19.05v12.81h-19.05zM1112.00 698.52h12.80v12.81h-12.80zM1318.25 698.52h6.55v12.81h-6.55zM1412.00 698.52h19.05v12.81h-19.05zM1112.00 711.03h12.80v12.81h-12.80zM1268.25 711.03h6.55v12.81h-6.55zM1412.00 711.03h19.05v12.81h-19.05zM1118.25 723.54h12.80v12.81h-12.80zM1268.25 723.54h6.55v12.81h-6.55zM1405.75 723.54h19.05v12.81h-19.05zM1118.25 736.04h19.05v12.81h-19.05zM1268.25 736.04h6.55v12.81h-6.55zM1399.50 736.04h19.05v12.81h-19.05zM1118.25 748.55h19.05v12.81h-19.05zM1274.50 748.55h6.55v12.81h-6.55zM1399.50 748.55h12.80v12.81h-12.80zM1118.25 761.05h25.30v12.81h-25.30zM1393.25 761.05h12.80v12.81h-12.80zM1112.00 773.56h31.55v12.81h-31.55zM1262.00 773.56h6.55v12.81h-6.55zM1312.00 773.56h6.55v12.81h-6.55zM1380.75 773.56h19.05v12.81h-19.05zM1099.50 786.07h50.30v12.81h-50.30zM1374.50 786.07h12.80v12.81h-12.80zM1055.75 798.57h100.30v12.81h-100.30zM1362.00 798.57h12.80v12.81h-12.80zM1037.00 811.08h119.05v12.81h-119.05zM1343.25 811.08h12.80v12.81h-12.80zM1030.75 823.58h44.05v12.81h-44.05zM1093.25 823.58h69.05v12.81h-69.05zM1030.75 836.09h31.55v12.81h-31.55zM1105.75 836.09h62.80v12.81h-62.80zM1030.75 848.60h25.30v12.81h-25.30zM1105.75 848.60h62.80v12.81h-62.80zM1305.75 848.60h6.55v12.81h-6.55zM1030.75 861.10h25.30v12.81h-25.30zM1112.00 861.10h62.80v12.81h-62.80zM1287.00 861.10h6.55v12.81h-6.55zM1030.75 873.61h25.30v12.81h-25.30zM1112.00 873.61h62.80v12.81h-62.80zM1274.50 873.61h6.55v12.81h-6.55zM1030.75 886.11h31.55v12.81h-31.55zM1112.00 886.11h69.05v12.81h-69.05zM1274.50 886.11h6.55v12.81h-6.55zM1037.00 898.62h25.30v12.81h-25.30zM1105.75 898.62h87.80v12.81h-87.80zM1262.00 898.62h12.80v12.81h-12.80zM1043.25 911.13h31.55v12.81h-31.55zM1099.50 911.13h100.30v12.81h-100.30zM1255.75 911.13h6.55v12.81h-6.55zM1049.50 923.63h156.55v12.81h-156.55zM1243.25 923.63h12.80v12.81h-12.80zM1055.75 936.14h156.55v12.81h-156.55zM1230.75 936.14h12.80v12.81h-12.80zM1068.25 948.64h169.05v12.81h-169.05zM1087.00 961.15h144.05v12.81h-144.05zM1093.25 973.66h131.55v12.81h-131.55zM1112.00 986.16h44.05v12.81h-44.05zM1168.25 986.16h50.30v12.81h-50.30zM1193.25 998.67h12.80v12.81h-12.80z"/>
<path fill="#6f898c" d="M1168.25 285.83h69.05v12.81h-69.05zM1149.50 298.33h100.30v12.81h-100.30zM1143.25 310.84h112.80v12.81h-112.80zM1130.75 323.34h137.80v12.81h-137.80zM1349.50 323.34h6.55v12.81h-6.55zM1124.50 335.85h150.30v12.81h-150.30zM1343.25 335.85h19.05v12.81h-19.05zM1118.25 348.36h37.80v12.81h-37.80zM1180.75 348.36h100.30v12.81h-100.30zM1337.00 348.36h25.30v12.81h-25.30zM1112.00 360.86h25.30v12.81h-25.30zM1205.75 360.86h87.80v12.81h-87.80zM1330.75 360.86h19.05v12.81h-19.05zM1112.00 373.37h19.05v12.81h-19.05zM1218.25 373.37h131.55v12.81h-131.55zM1105.75 385.87h12.80v12.81h-12.80zM1230.75 385.87h125.30v12.81h-125.30zM1099.50 398.38h12.80v12.81h-12.80zM1237.00 398.38h137.80v12.81h-137.80zM1093.25 410.89h12.80v12.81h-12.80zM1243.25 410.89h131.55v12.81h-131.55zM1093.25 423.39h6.55v12.81h-6.55zM1249.50 423.39h125.30v12.81h-125.30zM1087.00 435.90h12.80v12.81h-12.80zM1255.75 435.90h119.05v12.81h-119.05zM1080.75 448.40h12.80v12.81h-12.80zM1255.75 448.40h125.30v12.81h-125.30zM1080.75 460.91h6.55v12.81h-6.55zM1262.00 460.91h125.30v12.81h-125.30zM1074.50 473.42h6.55v12.81h-6.55zM1262.00 473.42h125.30v12.81h-125.30zM1074.50 485.92h6.55v12.81h-6.55zM1262.00 485.92h131.55v12.81h-131.55zM1074.50 498.43h6.55v12.81h-6.55zM1262.00 498.43h137.80v12.81h-137.80zM1068.25 510.93h6.55v12.81h-6.55zM1262.00 510.93h144.05v12.81h-144.05zM1068.25 523.44h6.55v12.81h-6.55zM1262.00 523.44h144.05v12.81h-144.05zM1068.25 535.95h6.55v12.81h-6.55zM1262.00 535.95h162.80v12.81h-162.80zM1068.25 548.45h6.55v12.81h-6.55zM1262.00 548.45h162.80v12.81h-162.80zM1074.50 560.96h6.55v12.81h-6.55zM1262.00 560.96h162.80v12.81h-162.80zM1262.00 573.46h162.80v12.81h-162.80zM1080.75 585.97h6.55v12.81h-6.55zM1262.00 585.97h162.80v12.81h-162.80zM1268.25 598.48h156.55v12.81h-156.55zM1268.25 610.98h25.30v12.81h-25.30zM1312.00 610.98h112.80v12.81h-112.80zM1093.25 623.49h6.55v12.81h-6.55zM1268.25 623.49h19.05v12.81h-19.05zM1318.25 623.49h25.30v12.81h-25.30zM1362.00 623.49h56.55v12.81h-56.55zM1099.50 635.99h6.55v12.81h-6.55zM1268.25 635.99h12.80v12.81h-12.80zM1318.25 635.99h12.80v12.81h-12.80zM1374.50 635.99h44.05v12.81h-44.05zM1105.75 648.50h6.55v12.81h-6.55zM1274.50 648.50h6.55v12.81h-6.55zM1318.25 648.50h12.80v12.81h-12.80zM1380.75 648.50h37.80v12.81h-37.80zM1112.00 661.01h6.55v12.81h-6.55zM1274.50 661.01h6.55v12.81h-6.55zM1324.50 661.01h6.55v12.81h-6.55zM1387.00 661.01h31.55v12.81h-31.55zM1112.00 673.51h12.80v12.81h-12.80zM1274.50 673.51h6.55v12.81h-6.55zM1393.25 673.51h25.30v12.81h-25.30zM1118.25 686.02h12.80v12.81h-12.80zM1393.25 686.02h19.05v12.81h-19.05zM1124.50 698.52h12.80v12.81h-12.80zM1268.25 698.52h6.55v12.81h-6.55zM1393.25 698.52h19.05v12.81h-19.05zM1124.50 711.03h19.05v12.81h-19.05zM1318.25 711.03h6.55v12.81h-6.55zM1393.25 711.03h19.05v12.81h-19.05zM1130.75 723.54h19.05v12.81h-19.05zM1262.00 723.54h6.55v12.81h-6.55zM1318.25 723.54h6.55v12.81h-6.55zM1393.25 723.54h12.80v12.81h-12.80zM1137.00 736.04h19.05v12.81h-19.05zM1262.00 736.04h6.55v12.81h-6.55zM1318.25 736.04h6.55v12.81h-6.55zM1387.00 736.04h12.80v12.81h-12.80zM1137.00 748.55h25.30v12.81h-25.30zM1262.00 748.55h12.80v12.81h-12.80zM1318.25 748.55h6.55v12.81h-6.55zM1387.00 748.55h12.80v12.81h-12.80zM1143.25 761.05h25.30v12.81h-25.30zM1262.00 761.05h12.80v12.81h-12.80zM1287.00 761.05h6.55v12.81h-6.55zM1318.25 761.05h6.55v12.81h-6.55zM1380.75 761.05h12.80v12.81h-12.80zM1143.25 773.56h25.30v12.81h-25.30zM1255.75 773.56h6.55v12.81h-6.55zM1374.50 773.56h6.55v12.81h-6.55zM1149.50 786.07h25.30v12.81h-25.30zM1262.00 786.07h6.55v12.81h-6.55zM1368.25 786.07h6.55v12.81h-6.55zM1155.75 798.57h19.05v12.81h-19.05zM1349.50 798.57h12.80v12.81h-12.80zM1155.75 811.08h25.30v12.81h-25.30zM1337.00 811.08h6.55v12.81h-6.55zM1074.50 823.58h19.05v12.81h-19.05zM1162.00 823.58h19.05v12.81h-19.05zM1324.50 823.58h6.55v12.81h-6.55zM1062.00 836.09h44.05v12.81h-44.05zM1168.25 836.09h19.05v12.81h-19.05zM1055.75 848.60h50.30v12.81h-50.30zM1168.25 848.60h25.30v12.81h-25.30zM1055.75 861.10h56.55v12.81h-56.55zM1174.50 861.10h25.30v12.81h-25.30zM1280.75 861.10h6.55v12.81h-6.55zM1055.75 873.61h56.55v12.81h-56.55zM1174.50 873.61h31.55v12.81h-31.55zM1268.25 873.61h6.55v12.81h-6.55zM1062.00 886.11h50.30v12.81h-50.30zM1180.75 886.11h25.30v12.81h-25.30zM1262.00 886.11h12.80v12.81h-12.80zM1062.00 898.62h44.05v12.81h-44.05zM1193.25 898.62h19.05v12.81h-19.05zM1249.50 898.62h12.80v12.81h-12.80zM1074.50 911.13h25.30v12.81h-25.30zM1199.50 911.13h25.30v12.81h-25.30zM1237.00 911.13h19.05v12.81h-19.05zM1205.75 923.63h37.80v12.81h-37.80zM1212.00 936.14h19.05v12.81h-19.05z"/>
<path fill="#5f7c81" d="M1155.75 348.36h25.30v12.81h-25.30zM1137.00 360.86h69.05v12.81h-69.05zM1130.75 373.37h87.80v12.81h-87.80zM1118.25 385.87h112.80v12.81h-112.80zM1112.00 398.38h25.30v12.81h-25.30zM1180.75 398.38h56.55v12.81h-56.55zM1105.75 410.89h19.05v12.81h-19.05zM1193.25 410.89h50.30v12.81h-50.30zM1099.50 423.39h19.05v12.81h-19.05zM1199.50 423.39h50.30v12.81h-50.30zM1099.50 435.90h6.55v12.81h-6.55zM1205.75 435.90h50.30v12.81h-50.30zM1093.25 448.40h6.55v12.81h-6.55zM1212.00 448.40h44.05v12.81h-44.05zM1087.00 460.91h6.55v12.81h-6.55zM1212.00 460.91h50.30v12.81h-50.30zM1080.75 473.42h12.80v12.81h-12.80zM1218.25 473.42h44.05v12.81h-44.05zM1080.75 485.92h6.55v12.81h-6.55zM1218.25 485.92h44.05v12.81h-44.05zM1218.25 498.43h44.05v12.81h-44.05zM1074.50 510.93h6.55v12.81h-6.55zM1218.25 510.93h44.05v12.81h-44.05zM1074.50 523.44h6.55v12.81h-6.55zM1224.50 523.44h37.80v12.81h-37.80zM1074.50 535.95h6.55v12.81h-6.55zM1224.50 535.95h37.80v12.81h-37.80zM1074.50 548.45h6.55v12.81h-6.55zM1224.50 548.45h37.80v12.81h-37.80zM1218.25 560.96h44.05v12.81h-44.05zM1218.25 573.46h44.05v12.81h-44.05zM1218.25 585.97h44.05v12.81h-44.05zM1087.00 598.48h6.55v12.81h-6.55zM1218.25 598.48h50.30v12.81h-50.30zM1093.25 610.98h6.55v12.81h-6.55zM1212.00 610.98h56.55v12.81h-56.55zM1099.50 623.49h6.55v12.81h-6.55zM1212.00 623.49h56.55v12.81h-56.55zM1343.25 623.49h19.05v12.81h-19.05zM1105.75 635.99h6.55v12.81h-6.55zM1212.00 635.99h56.55v12.81h-56.55zM1330.75 635.99h44.05v12.81h-44.05zM1112.00 648.50h6.55v12.81h-6.55zM1218.25 648.50h56.55v12.81h-56.55zM1330.75 648.50h50.30v12.81h-50.30zM1118.25 661.01h6.55v12.81h-6.55zM1218.25 661.01h56.55v12.81h-56.55zM1330.75 661.01h6.55v12.81h-6.55zM1368.25 661.01h19.05v12.81h-19.05zM1124.50 673.51h12.80v12.81h-12.80zM1224.50 673.51h50.30v12.81h-50.30zM1324.50 673.51h6.55v12.81h-6.55zM1374.50 673.51h19.05v12.81h-19.05zM1130.75 686.02h19.05v12.81h-19.05zM1262.00 686.02h12.80v12.81h-12.80zM1324.50 686.02h6.55v12.81h-6.55zM1380.75 686.02h12.80v12.81h-12.80zM1137.00 698.52h31.55v12.81h-31.55zM1262.00 698.52h6.55v12.81h-6.55zM1380.75 698.52h12.80v12.81h-12.80zM1143.25 711.03h31.55v12.81h-31.55zM1255.75 711.03h12.80v12.81h-12.80zM1380.75 711.03h12.80v12.81h-12.80zM1149.50 723.54h31.55v12.81h-31.55zM1255.75 723.54h6.55v12.81h-6.55zM1380.75 723.54h12.80v12.81h-12.80zM1155.75 736.04h25.30v12.81h-25.30zM1255.75 736.04h6.55v12.81h-6.55zM1380.75 736.04h6.55v12.81h-6.55zM1162.00 748.55h25.30v12.81h-25.30zM1255.75 748.55h6.55v12.81h-6.55zM1374.50 748.55h12.80v12.81h-12.80zM1168.25 761.05h25.30v12.81h-25.30zM1255.75 761.05h6.55v12.81h-6.55zM1274.50 761.05h6.55v12.81h-6.55zM1374.50 761.05h6.55v12.81h-6.55zM1168.25 773.56h31.55v12.81h-31.55zM1268.25 773.56h6.55v12.81h-6.55zM1293.25 773.56h6.55v12.81h-6.55zM1318.25 773.56h6.55v12.81h-6.55zM1368.25 773.56h6.55v12.81h-6.55zM1174.50 786.07h25.30v12.81h-25.30zM1255.75 786.07h6.55v12.81h-6.55zM1355.75 786.07h12.80v12.81h-12.80zM1174.50 798.57h31.55v12.81h-31.55zM1262.00 798.57h6.55v12.81h-6.55zM1343.25 798.57h6.55v12.81h-6.55zM1180.75 811.08h25.30v12.81h-25.30zM1330.75 811.08h6.55v12.81h-6.55zM1180.75 823.58h31.55v12.81h-31.55zM1187.00 836.09h25.30v12.81h-25.30zM1312.00 836.09h6.55v12.81h-6.55zM1193.25 848.60h25.30v12.81h-25.30zM1299.50 848.60h6.55v12.81h-6.55zM1199.50 861.10h19.05v12.81h-19.05zM1268.25 861.10h12.80v12.81h-12.80zM1205.75 873.61h19.05v12.81h-19.05zM1255.75 873.61h12.80v12.81h-12.80zM1205.75 886.11h25.30v12.81h-25.30zM1243.25 886.11h19.05v12.81h-19.05zM1212.00 898.62h37.80v12.81h-37.80zM1224.50 911.13h12.80v12.81h-12.80z"/>
<path fill="#4f6f76" d="M1137.00 398.38h44.05v12.81h-44.05zM1124.50 410.89h69.05v12.81h-69.05zM1118.25 423.39h81.55v12.81h-81.55zM1105.75 435.90h25.30v12.81h-25.30zM1168.25 435.90h37.80v12.81h-37.80zM1099.50 448.40h19.05v12.81h-19.05zM1174.50 448.40h37.80v12.81h-37.80zM1093.25 460.91h12.80v12.81h-12.80zM1180.75 460.91h31.55v12.81h-31.55zM1093.25 473.42h6.55v12.81h-6.55zM1187.00 473.42h31.55v12.81h-31.55zM1087.00 485.92h6.55v12.81h-6.55zM1187.00 485.92h31.55v12.81h-31.55zM1080.75 498.43h6.55v12.81h-6.55zM1187.00 498.43h31.55v12.81h-31.55zM1080.75 510.93h6.55v12.81h-6.55zM1187.00 510.93h31.55v12.81h-31.55zM1187.00 523.44h37.80v12.81h-37.80zM1187.00 535.95h37.80v12.81h-37.80zM1187.00 548.45h37.80v12.81h-37.80zM1187.00 560.96h31.55v12.81h-31.55zM1080.75 573.46h6.55v12.81h-6.55zM1193.25 573.46h25.30v12.81h-25.30zM1193.25 585.97h25.30v12.81h-25.30zM1193.25 598.48h25.30v12.81h-25.30zM1193.25 610.98h19.05v12.81h-19.05zM1193.25 623.49h19.05v12.81h-19.05zM1112.00 635.99h6.55v12.81h-6.55zM1193.25 635.99h19.05v12.81h-19.05zM1118.25 648.50h12.80v12.81h-12.80zM1187.00 648.50h31.55v12.81h-31.55zM1124.50 661.01h19.05v12.81h-19.05zM1187.00 661.01h31.55v12.81h-31.55zM1337.00 661.01h31.55v12.81h-31.55zM1137.00 673.51h87.80v12.81h-87.80zM1330.75 673.51h6.55v12.81h-6.55zM1362.00 673.51h12.80v12.81h-12.80zM1149.50 686.02h112.80v12.81h-112.80zM1368.25 686.02h12.80v12.81h-12.80zM1168.25 698.52h94.05v12.81h-94.05zM1324.50 698.52h6.55v12.81h-6.55zM1374.50 698.52h6.55v12.81h-6.55zM1174.50 711.03h81.55v12.81h-81.55zM1374.50 711.03h6.55v12.81h-6.55zM1180.75 723.54h50.30v12.81h-50.30zM1237.00 723.54h19.05v12.81h-19.05zM1374.50 723.54h6.55v12.81h-6.55zM1180.75 736.04h44.05v12.81h-44.05zM1243.25 736.04h12.80v12.81h-12.80zM1374.50 736.04h6.55v12.81h-6.55zM1187.00 748.55h37.80v12.81h-37.80zM1249.50 748.55h6.55v12.81h-6.55zM1368.25 748.55h6.55v12.81h-6.55zM1193.25 761.05h31.55v12.81h-31.55zM1249.50 761.05h6.55v12.81h-6.55zM1280.75 761.05h6.55v12.81h-6.55zM1368.25 761.05h6.55v12.81h-6.55zM1199.50 773.56h25.30v12.81h-25.30zM1362.00 773.56h6.55v12.81h-6.55zM1199.50 786.07h25.30v12.81h-25.30zM1268.25 786.07h6.55v12.81h-6.55zM1305.75 786.07h12.80v12.81h-12.80zM1349.50 786.07h6.55v12.81h-6.55zM1205.75 798.57h19.05v12.81h-19.05zM1255.75 798.57h6.55v12.81h-6.55zM1330.75 798.57h12.80v12.81h-12.80zM1205.75 811.08h19.05v12.81h-19.05zM1324.50 811.08h6.55v12.81h-6.55zM1212.00 823.58h12.80v12.81h-12.80zM1318.25 823.58h6.55v12.81h-6.55zM1212.00 836.09h19.05v12.81h-19.05zM1218.25 848.60h19.05v12.81h-19.05zM1255.75 848.60h44.05v12.81h-44.05zM1218.25 861.10h50.30v12.81h-50.30zM1224.50 873.61h31.55v12.81h-31.55zM1230.75 886.11h12.80v12.81h-12.80z"/>
<path fill="#3d626a" d="M1130.75 435.90h37.80v12.81h-37.80zM1118.25 448.40h56.55v12.81h-56.55zM1105.75 460.91h75.30v12.81h-75.30zM1099.50 473.42h12.80v12.81h-12.80zM1155.75 473.42h31.55v12.81h-31.55zM1093.25 485.92h6.55v12.81h-6.55zM1162.00 485.92h25.30v12.81h-25.30zM1087.00 498.43h6.55v12.81h-6.55zM1168.25 498.43h19.05v12.81h-19.05zM1168.25 510.93h19.05v12.81h-19.05zM1080.75 523.44h6.55v12.81h-6.55zM1174.50 523.44h12.80v12.81h-12.80zM1080.75 535.95h6.55v12.81h-6.55zM1174.50 535.95h12.80v12.81h-12.80zM1080.75 548.45h6.55v12.81h-6.55zM1174.50 548.45h12.80v12.81h-12.80zM1080.75 560.96h6.55v12.81h-6.55zM1174.50 560.96h12.80v12.81h-12.80zM1174.50 573.46h19.05v12.81h-19.05zM1087.00 585.97h6.55v12.81h-6.55zM1174.50 585.97h19.05v12.81h-19.05zM1093.25 598.48h6.55v12.81h-6.55zM1174.50 598.48h19.05v12.81h-19.05zM1099.50 610.98h6.55v12.81h-6.55zM1174.50 610.98h19.05v12.81h-19.05zM1105.75 623.49h6.55v12.81h-6.55zM1168.25 623.49h25.30v12.81h-25.30zM1118.25 635.99h12.80v12.81h-12.80zM1162.00 635.99h31.55v12.81h-31.55zM1130.75 648.50h56.55v12.81h-56.55zM1143.25 661.01h44.05v12.81h-44.05zM1337.00 673.51h25.30v12.81h-25.30zM1330.75 686.02h6.55v12.81h-6.55zM1362.00 686.02h6.55v12.81h-6.55zM1368.25 698.52h6.55v12.81h-6.55zM1324.50 711.03h6.55v12.81h-6.55zM1368.25 711.03h6.55v12.81h-6.55zM1230.75 723.54h6.55v12.81h-6.55zM1368.25 723.54h6.55v12.81h-6.55zM1224.50 736.04h19.05v12.81h-19.05zM1368.25 736.04h6.55v12.81h-6.55zM1224.50 748.55h25.30v12.81h-25.30zM1362.00 748.55h6.55v12.81h-6.55zM1224.50 761.05h12.80v12.81h-12.80zM1243.25 761.05h6.55v12.81h-6.55zM1324.50 761.05h6.55v12.81h-6.55zM1362.00 761.05h6.55v12.81h-6.55zM1224.50 773.56h6.55v12.81h-6.55zM1249.50 773.56h6.55v12.81h-6.55zM1274.50 773.56h6.55v12.81h-6.55zM1324.50 773.56h6.55v12.81h-6.55zM1355.75 773.56h6.55v12.81h-6.55zM1224.50 786.07h6.55v12.81h-6.55zM1249.50 786.07h6.55v12.81h-6.55zM1299.50 786.07h6.55v12.81h-6.55zM1318.25 786.07h31.55v12.81h-31.55zM1224.50 798.57h12.80v12.81h-12.80zM1249.50 798.57h6.55v12.81h-6.55zM1268.25 798.57h6.55v12.81h-6.55zM1324.50 798.57h6.55v12.81h-6.55zM1224.50 811.08h12.80v12.81h-12.80zM1249.50 811.08h19.05v12.81h-19.05zM1318.25 811.08h6.55v12.81h-6.55zM1224.50 823.58h44.05v12.81h-44.05zM1230.75 836.09h44.05v12.81h-44.05zM1237.00 848.60h19.05v12.81h-19.05z"/>
<path fill="#2a545f" d="M1112.00 473.42h44.05v12.81h-44.05zM1099.50 485.92h62.80v12.81h-62.80zM1093.25 498.43h12.80v12.81h-12.80zM1149.50 498.43h19.05v12.81h-19.05zM1087.00 510.93h12.80v12.81h-12.80zM1155.75 510.93h12.80v12.81h-12.80zM1087.00 523.44h6.55v12.81h-6.55zM1155.75 523.44h19.05v12.81h-19.05zM1162.00 535.95h12.80v12.81h-12.80zM1162.00 548.45h12.80v12.81h-12.80zM1162.00 560.96h12.80v12.81h-12.80zM1087.00 573.46h6.55v12.81h-6.55zM1168.25 573.46h6.55v12.81h-6.55zM1162.00 585.97h12.80v12.81h-12.80zM1099.50 598.48h6.55v12.81h-6.55zM1162.00 598.48h12.80v12.81h-12.80zM1105.75 610.98h6.55v12.81h-6.55zM1162.00 610.98h12.80v12.81h-12.80zM1112.00 623.49h12.80v12.81h-12.80zM1149.50 623.49h19.05v12.81h-19.05zM1130.75 635.99h31.55v12.81h-31.55zM1337.00 686.02h25.30v12.81h-25.30zM1330.75 698.52h6.55v12.81h-6.55zM1355.75 698.52h12.80v12.81h-12.80zM1362.00 711.03h6.55v12.81h-6.55zM1324.50 723.54h6.55v12.81h-6.55zM1362.00 723.54h6.55v12.81h-6.55zM1324.50 736.04h6.55v12.81h-6.55zM1362.00 736.04h6.55v12.81h-6.55zM1324.50 748.55h6.55v12.81h-6.55zM1237.00 761.05h6.55v12.81h-6.55zM1355.75 761.05h6.55v12.81h-6.55zM1230.75 773.56h19.05v12.81h-19.05zM1330.75 773.56h6.55v12.81h-6.55zM1343.25 773.56h12.80v12.81h-12.80zM1230.75 786.07h19.05v12.81h-19.05zM1237.00 798.57h12.80v12.81h-12.80zM1318.25 798.57h6.55v12.81h-6.55zM1237.00 811.08h12.80v12.81h-12.80zM1268.25 811.08h6.55v12.81h-6.55zM1268.25 823.58h6.55v12.81h-6.55zM1274.50 836.09h6.55v12.81h-6.55z"/>
<path fill="#1a4754" d="M1105.75 498.43h44.05v12.81h-44.05zM1099.50 510.93h6.55v12.81h-6.55zM1137.00 510.93h19.05v12.81h-19.05zM1093.25 523.44h6.55v12.81h-6.55zM1149.50 523.44h6.55v12.81h-6.55zM1087.00 535.95h6.55v12.81h-6.55zM1149.50 535.95h12.80v12.81h-12.80zM1149.50 548.45h12.80v12.81h-12.80zM1155.75 560.96h6.55v12.81h-6.55zM1155.75 573.46h12.80v12.81h-12.80zM1093.25 585.97h6.55v12.81h-6.55zM1155.75 585.97h6.55v12.81h-6.55zM1155.75 598.48h6.55v12.81h-6.55zM1112.00 610.98h6.55v12.81h-6.55zM1143.25 610.98h19.05v12.81h-19.05zM1124.50 623.49h25.30v12.81h-25.30zM1337.00 698.52h19.05v12.81h-19.05zM1330.75 711.03h6.55v12.81h-6.55zM1355.75 711.03h6.55v12.81h-6.55zM1355.75 723.54h6.55v12.81h-6.55zM1355.75 736.04h6.55v12.81h-6.55zM1355.75 748.55h6.55v12.81h-6.55zM1330.75 761.05h6.55v12.81h-6.55zM1349.50 761.05h6.55v12.81h-6.55zM1337.00 773.56h6.55v12.81h-6.55zM1274.50 786.07h6.55v12.81h-6.55zM1274.50 798.57h6.55v12.81h-6.55zM1312.00 798.57h6.55v12.81h-6.55zM1274.50 811.08h6.55v12.81h-6.55zM1274.50 823.58h6.55v12.81h-6.55zM1312.00 823.58h6.55v12.81h-6.55zM1280.75 836.09h6.55v12.81h-6.55zM1305.75 836.09h6.55v12.81h-6.55z"/>
<path fill="#08394a" d="M1105.75 510.93h31.55v12.81h-31.55zM1099.50 523.44h12.80v12.81h-12.80zM1137.00 523.44h12.80v12.81h-12.80zM1093.25 535.95h6.55v12.81h-6.55zM1143.25 535.95h6.55v12.81h-6.55zM1087.00 548.45h6.55v12.81h-6.55zM1143.25 548.45h6.55v12.81h-6.55zM1087.00 560.96h6.55v12.81h-6.55zM1149.50 560.96h6.55v12.81h-6.55zM1093.25 573.46h6.55v12.81h-6.55zM1149.50 573.46h6.55v12.81h-6.55zM1099.50 585.97h6.55v12.81h-6.55zM1149.50 585.97h6.55v12.81h-6.55zM1105.75 598.48h6.55v12.81h-6.55zM1143.25 598.48h12.80v12.81h-12.80zM1118.25 610.98h25.30v12.81h-25.30zM1337.00 711.03h19.05v12.81h-19.05zM1330.75 723.54h6.55v12.81h-6.55zM1349.50 723.54h6.55v12.81h-6.55zM1349.50 736.04h6.55v12.81h-6.55zM1330.75 748.55h6.55v12.81h-6.55zM1349.50 748.55h6.55v12.81h-6.55zM1337.00 761.05h12.80v12.81h-12.80zM1280.75 773.56h6.55v12.81h-6.55zM1293.25 786.07h6.55v12.81h-6.55zM1305.75 798.57h6.55v12.81h-6.55zM1312.00 811.08h6.55v12.81h-6.55zM1287.00 836.09h19.05v12.81h-19.05z"/>
<path fill="#07384a" d="M1112.00 523.44h25.30v12.81h-25.30zM1099.50 535.95h19.05v12.81h-19.05zM1137.00 535.95h6.55v12.81h-6.55zM1093.25 548.45h19.05v12.81h-19.05zM1137.00 548.45h6.55v12.81h-6.55zM1093.25 560.96h12.80v12.81h-12.80zM1143.25 560.96h6.55v12.81h-6.55zM1099.50 573.46h6.55v12.81h-6.55zM1143.25 573.46h6.55v12.81h-6.55zM1105.75 585.97h6.55v12.81h-6.55zM1137.00 585.97h12.80v12.81h-12.80zM1112.00 598.48h31.55v12.81h-31.55zM1343.25 723.54h6.55v12.81h-6.55zM1330.75 736.04h6.55v12.81h-6.55zM1337.00 748.55h12.80v12.81h-12.80zM1287.00 773.56h6.55v12.81h-6.55zM1280.75 823.58h6.55v12.81h-6.55z"/>
<path fill="#073648" d="M1118.25 535.95h19.05v12.81h-19.05zM1112.00 548.45h6.55v12.81h-6.55zM1130.75 548.45h6.55v12.81h-6.55zM1105.75 560.96h12.80v12.81h-12.80zM1137.00 560.96h6.55v12.81h-6.55zM1105.75 573.46h12.80v12.81h-12.80zM1137.00 573.46h6.55v12.81h-6.55zM1112.00 585.97h12.80v12.81h-12.80zM1130.75 585.97h6.55v12.81h-6.55zM1337.00 723.54h6.55v12.81h-6.55zM1337.00 736.04h12.80v12.81h-12.80zM1280.75 786.07h6.55v12.81h-6.55zM1280.75 798.57h6.55v12.81h-6.55zM1299.50 798.57h6.55v12.81h-6.55zM1280.75 811.08h6.55v12.81h-6.55zM1305.75 811.08h6.55v12.81h-6.55zM1287.00 823.58h6.55v12.81h-6.55zM1305.75 823.58h6.55v12.81h-6.55z"/>
<path fill="#063546" d="M1118.25 548.45h12.80v12.81h-12.80zM1118.25 560.96h6.55v12.81h-6.55zM1130.75 560.96h6.55v12.81h-6.55zM1118.25 573.46h19.05v12.81h-19.05zM1124.50 585.97h6.55v12.81h-6.55zM1287.00 786.07h6.55v12.81h-6.55zM1287.00 798.57h12.80v12.81h-12.80zM1287.00 811.08h6.55v12.81h-6.55zM1293.25 823.58h12.80v12.81h-12.80z"/>
<path fill="#063344" d="M1124.50 560.96h6.55v12.81h-6.55zM1293.25 811.08h12.80v12.81h-12.80z"/>
</g>
<path d="M911.8 111V1011.5" stroke="#2f5560" stroke-width="1.3" fill="none"/>
<path d="M890.8 111.3H911.8" stroke="#2f5560" stroke-width="1.3"/>
<text x="876.2" y="120.3" font-size="27" text-anchor="end" fill="#08323f" textLength="54.0" lengthAdjust="spacingAndGlyphs" >−17.1</text>
<path d="M890.8 411.3H911.8" stroke="#2f5560" stroke-width="1.3"/>
<text x="876.2" y="420.3" font-size="27" text-anchor="end" fill="#08323f" textLength="54.0" lengthAdjust="spacingAndGlyphs" >−17.3</text>
<path d="M890.8 711.3H911.8" stroke="#2f5560" stroke-width="1.3"/>
<text x="876.2" y="720.3" font-size="27" text-anchor="end" fill="#08323f" textLength="54.0" lengthAdjust="spacingAndGlyphs" >−17.5</text>
<path d="M890.8 1011.3H911.8" stroke="#2f5560" stroke-width="1.3"/>
<text x="876.2" y="1020.3" font-size="27" text-anchor="end" fill="#08323f" textLength="54.0" lengthAdjust="spacingAndGlyphs" >−17.7</text>
<path d="M917.7 1098.6H1517.7" stroke="#2f5560" stroke-width="1.3" fill="none"/>
<path d="M917.7 1098.6V1113.3" stroke="#2f5560" stroke-width="1.3"/>
<text x="917.7" y="1147.3" font-size="27" text-anchor="middle" fill="#08323f" textLength="66.0" lengthAdjust="spacingAndGlyphs" >145.4</text>
<path d="M1067.7 1098.6V1113.3" stroke="#2f5560" stroke-width="1.3"/>
<text x="1067.7" y="1147.3" font-size="27" text-anchor="middle" fill="#08323f" textLength="66.0" lengthAdjust="spacingAndGlyphs" >145.6</text>
<path d="M1217.7 1098.6V1113.3" stroke="#2f5560" stroke-width="1.3"/>
<text x="1217.7" y="1147.3" font-size="27" text-anchor="middle" fill="#08323f" textLength="66.0" lengthAdjust="spacingAndGlyphs" >145.8</text>
<path d="M1367.7 1098.6V1113.3" stroke="#2f5560" stroke-width="1.3"/>
<text x="1367.7" y="1147.3" font-size="27" text-anchor="middle" fill="#08323f" textLength="66.0" lengthAdjust="spacingAndGlyphs" >146.0</text>
<path d="M1517.7 1098.6V1113.3" stroke="#2f5560" stroke-width="1.3"/>
<text x="1517.7" y="1147.3" font-size="27" text-anchor="middle" fill="#08323f" textLength="66.0" lengthAdjust="spacingAndGlyphs" >146.2</text>
<circle cx="1012.2" cy="111.0" r="12.3" fill="none" stroke="#d55e00" stroke-width="6.9"/>
<path d="M963.6 342.6L987.0 366.0M963.6 366.0L987.0 342.6" stroke="#d55e00" stroke-width="6.6" stroke-linecap="round" fill="none"/>
<circle cx="981.7" cy="484.6" r="12.3" fill="none" stroke="#d55e00" stroke-width="6.9"/>
<path d="M975.2 481.3L998.6 504.7M975.2 504.7L998.6 481.3" stroke="#d55e00" stroke-width="6.6" stroke-linecap="round" fill="none"/>
<path d="M1024.6 453.6L1048.0 477.0M1024.6 477.0L1048.0 453.6" stroke="#0072b2" stroke-width="6.6" stroke-linecap="round" fill="none"/>
<circle cx="1021.5" cy="473.1" r="12.3" fill="none" stroke="#d55e00" stroke-width="6.9"/>
<path d="M978.1 525.3L1001.5 548.7M978.1 548.7L1001.5 525.3" stroke="#d55e00" stroke-width="6.6" stroke-linecap="round" fill="none"/>
<path d="M974.8 534.1L998.2 557.5M974.8 557.5L998.2 534.1" stroke="#d55e00" stroke-width="6.6" stroke-linecap="round" fill="none"/>
<circle cx="1068.0" cy="638.7" r="12.3" fill="none" stroke="#d55e00" stroke-width="6.9"/>
<circle cx="1111.7" cy="555.7" r="12.3" fill="none" stroke="#56b4e9" stroke-width="6.9"/>
<circle cx="1065.9" cy="553.5" r="12.3" fill="none" stroke="#56b4e9" stroke-width="6.9"/>
<circle cx="1047.4" cy="562.6" r="12.3" fill="none" stroke="#56b4e9" stroke-width="6.9"/>
<path d="M1049.8 509.8L1073.2 533.2M1049.8 533.2L1073.2 509.8" stroke="#56b4e9" stroke-width="6.6" stroke-linecap="round" fill="none"/>
<path d="M1046.5 522.5L1069.9 545.9M1046.5 545.9L1069.9 522.5" stroke="#56b4e9" stroke-width="6.6" stroke-linecap="round" fill="none"/>
<path d="M1041.7 534.3L1065.1 557.7M1041.7 557.7L1065.1 534.3" stroke="#56b4e9" stroke-width="6.6" stroke-linecap="round" fill="none"/>
<path d="M1036.3 550.3L1059.7 573.7M1036.3 573.7L1059.7 550.3" stroke="#56b4e9" stroke-width="6.6" stroke-linecap="round" fill="none"/>
<circle cx="1301.1" cy="743.7" r="12.3" fill="none" stroke="#cc79a7" stroke-width="6.9"/>
<circle cx="1337.2" cy="742.4" r="12.3" fill="none" stroke="#cc79a7" stroke-width="6.9"/>
<circle cx="1249.3" cy="789.1" r="12.3" fill="none" stroke="#cc79a7" stroke-width="6.9"/>
<circle cx="1264.6" cy="786.1" r="12.3" fill="none" stroke="#cc79a7" stroke-width="6.9"/>
<circle cx="1285.8" cy="801.0" r="12.3" fill="none" stroke="#cc79a7" stroke-width="6.9"/>
<circle cx="1297.7" cy="809.5" r="12.3" fill="none" stroke="#cc79a7" stroke-width="6.9"/>
<circle cx="1271.8" cy="850.2" r="12.3" fill="none" stroke="#cc79a7" stroke-width="6.9"/>
<circle cx="1309.6" cy="924.0" r="12.3" fill="none" stroke="#cc79a7" stroke-width="6.9"/>
<circle cx="1323.2" cy="919.3" r="12.3" fill="none" stroke="#cc79a7" stroke-width="6.9"/>
<path d="M1328.4 891.9L1351.8 915.3M1328.4 915.3L1351.8 891.9" stroke="#cc79a7" stroke-width="6.6" stroke-linecap="round" fill="none"/>
<circle cx="1338.4" cy="960.0" r="12.3" fill="none" stroke="#cc79a7" stroke-width="6.9"/>
<circle cx="1347.8" cy="976.2" r="12.3" fill="none" stroke="#cc79a7" stroke-width="6.9"/>
<text x="-1.5" y="29.0" font-size="38" text-anchor="start" fill="#000" textLength="22.0" lengthAdjust="spacingAndGlyphs" font-weight="700" stroke="#000" stroke-width="1.2">a</text>
<text x="821.5" y="29.0" font-size="38" text-anchor="start" fill="#000" textLength="24.0" lengthAdjust="spacingAndGlyphs" font-weight="700" stroke="#000" stroke-width="1.2">b</text>
<text x="-1.5" y="1225.0" font-size="38" text-anchor="start" fill="#000" textLength="23.5" lengthAdjust="spacingAndGlyphs" font-weight="700" stroke="#000" stroke-width="1.2">c</text>
<text x="851.5" y="1225.0" font-size="38" text-anchor="start" fill="#000" textLength="24.0" lengthAdjust="spacingAndGlyphs" font-weight="700" stroke="#000" stroke-width="1.2">d</text>
<rect x="1505.6" y="744.70" width="16.0" height="11.90" fill="#fbf5e4"/>
<rect x="1505.6" y="728.47" width="16.0" height="16.63" fill="#eeecdd"/>
<rect x="1505.6" y="712.24" width="16.0" height="16.63" fill="#e3e3d5"/>
<rect x="1505.6" y="696.01" width="16.0" height="16.63" fill="#d5d8cb"/>
<rect x="1505.6" y="679.78" width="16.0" height="16.63" fill="#c8cdc3"/>
<rect x="1505.6" y="663.55" width="16.0" height="16.63" fill="#bcc3bb"/>
<rect x="1505.6" y="647.32" width="16.0" height="16.63" fill="#aeb8b2"/>
<rect x="1505.6" y="631.09" width="16.0" height="16.63" fill="#a1adaa"/>
<rect x="1505.6" y="614.86" width="16.0" height="16.63" fill="#94a3a2"/>
<rect x="1505.6" y="598.63" width="16.0" height="16.63" fill="#86989b"/>
<rect x="1505.6" y="582.40" width="16.0" height="16.63" fill="#6f898c"/>
<rect x="1505.6" y="566.17" width="16.0" height="16.63" fill="#5f7c81"/>
<rect x="1505.6" y="549.94" width="16.0" height="16.63" fill="#4f6f76"/>
<rect x="1505.6" y="533.71" width="16.0" height="16.63" fill="#3d626a"/>
<rect x="1505.6" y="517.48" width="16.0" height="16.63" fill="#2a545f"/>
<rect x="1505.6" y="501.25" width="16.0" height="16.63" fill="#1a4754"/>
<rect x="1505.6" y="485.02" width="16.0" height="16.63" fill="#08394a"/>
<rect x="1505.6" y="468.79" width="16.0" height="16.63" fill="#07384a"/>
<rect x="1505.6" y="452.56" width="16.0" height="16.63" fill="#073648"/>
<rect x="1505.6" y="436.33" width="16.0" height="16.63" fill="#063546"/>
<rect x="1505.6" y="420.10" width="16.0" height="16.63" fill="#063344"/>
<rect x="1505.6" y="403.87" width="16.0" height="16.63" fill="#053142"/>
<rect x="1505.6" y="387.64" width="16.0" height="16.63" fill="#052f3f"/>
<rect x="1505.6" y="371.41" width="16.0" height="16.63" fill="#042d3c"/>
<rect x="1505.6" y="355.30" width="16.0" height="16.51" fill="#032b39"/>
<path d="M1505.6 355.3V756.2H1521.6V355.3" stroke="#2f5560" stroke-width="1.3" fill="none" opacity="0.8"/>
<path d="M1521.6 756.2H1536.6" stroke="#2f5560" stroke-width="1.3"/>
<text x="1547.0" y="765.1" font-size="27.3" text-anchor="start" fill="#08323f" textLength="16.5" lengthAdjust="spacingAndGlyphs" >0</text>
<path d="M1521.6 676.0H1536.6" stroke="#2f5560" stroke-width="1.3"/>
<text x="1547.0" y="684.9" font-size="27.3" text-anchor="start" fill="#08323f" textLength="39.4" lengthAdjust="spacingAndGlyphs" >0.1</text>
<path d="M1521.6 595.8H1536.6" stroke="#2f5560" stroke-width="1.3"/>
<text x="1547.0" y="604.7" font-size="27.3" text-anchor="start" fill="#08323f" textLength="39.4" lengthAdjust="spacingAndGlyphs" >0.2</text>
<path d="M1521.6 515.7H1536.6" stroke="#2f5560" stroke-width="1.3"/>
<text x="1547.0" y="524.6" font-size="27.3" text-anchor="start" fill="#08323f" textLength="39.4" lengthAdjust="spacingAndGlyphs" >0.3</text>
<path d="M1521.6 435.5H1536.6" stroke="#2f5560" stroke-width="1.3"/>
<text x="1547.0" y="444.4" font-size="27.3" text-anchor="start" fill="#08323f" textLength="39.4" lengthAdjust="spacingAndGlyphs" >0.4</text>
<path d="M1521.6 355.3H1536.6" stroke="#2f5560" stroke-width="1.3"/>
<text x="1547.0" y="364.2" font-size="27.3" text-anchor="start" fill="#08323f" textLength="39.4" lengthAdjust="spacingAndGlyphs" >0.5</text>
<text x="1483.0" y="555.0" font-size="27" text-anchor="middle" fill="#08323f" textLength="339.0" lengthAdjust="spacingAndGlyphs" transform="rotate(-90 1483.0 555.0)" >Change in allele frequency</text>
<rect x="105" y="1230" width="658.3" height="574.6" fill="none" stroke="#2f5560" stroke-width="1.3"/>
<path d="M91.3 1240.3H105" stroke="#2f5560" stroke-width="1.3"/>
<text x="79.9" y="1248.3" font-size="23.6" text-anchor="end" fill="#08323f" textLength="33.1" lengthAdjust="spacingAndGlyphs" >0.5</text>
<path d="M91.3 1353.8H105" stroke="#2f5560" stroke-width="1.3"/>
<text x="79.9" y="1361.8" font-size="23.6" text-anchor="end" fill="#08323f" textLength="33.1" lengthAdjust="spacingAndGlyphs" >0.4</text>
<path d="M91.3 1467.3H105" stroke="#2f5560" stroke-width="1.3"/>
<text x="79.9" y="1475.3" font-size="23.6" text-anchor="end" fill="#08323f" textLength="33.1" lengthAdjust="spacingAndGlyphs" >0.3</text>
<path d="M91.3 1580.6H105" stroke="#2f5560" stroke-width="1.3"/>
<text x="79.9" y="1588.6" font-size="23.6" text-anchor="end" fill="#08323f" textLength="33.1" lengthAdjust="spacingAndGlyphs" >0.2</text>
<path d="M91.3 1693.9H105" stroke="#2f5560" stroke-width="1.3"/>
<text x="79.9" y="1701.9" font-size="23.6" text-anchor="end" fill="#08323f" textLength="33.1" lengthAdjust="spacingAndGlyphs" >0.1</text>
<path d="M129.4 1804.6V1819" stroke="#2f5560" stroke-width="1.3"/>
<text x="129.4" y="1849.0" font-size="23.6" text-anchor="middle" fill="#08323f" textLength="13.6" lengthAdjust="spacingAndGlyphs" >0</text>
<path d="M281 1804.6V1819" stroke="#2f5560" stroke-width="1.3"/>
<text x="281.0" y="1849.0" font-size="23.6" text-anchor="middle" fill="#08323f" textLength="32.5" lengthAdjust="spacingAndGlyphs" >0.2</text>
<path d="M432.7 1804.6V1819" stroke="#2f5560" stroke-width="1.3"/>
<text x="432.7" y="1849.0" font-size="23.6" text-anchor="middle" fill="#08323f" textLength="32.5" lengthAdjust="spacingAndGlyphs" >0.4</text>
<path d="M584.2 1804.6V1819" stroke="#2f5560" stroke-width="1.3"/>
<text x="584.2" y="1849.0" font-size="23.6" text-anchor="middle" fill="#08323f" textLength="32.5" lengthAdjust="spacingAndGlyphs" >0.6</text>
<path d="M735.7 1804.6V1819" stroke="#2f5560" stroke-width="1.3"/>
<text x="735.7" y="1849.0" font-size="23.6" text-anchor="middle" fill="#08323f" textLength="32.5" lengthAdjust="spacingAndGlyphs" >0.8</text>
<text x="22.7" y="1516.5" font-size="27" text-anchor="middle" fill="#08323f" textLength="339.0" lengthAdjust="spacingAndGlyphs" transform="rotate(-90 22.7 1516.5)" >Change in allele frequency</text>
<text x="296.4" y="1891.8" font-size="26.5" fill="#08323f" textLength="275.7" lengthAdjust="spacingAndGlyphs"><tspan font-style="italic">M. splendida</tspan> ancestry</text>
<circle cx="129.5" cy="1723.6" r="10.2" fill="none" stroke="#d55e00" stroke-width="4.1"/>
<circle cx="129.6" cy="1737.2" r="10.2" fill="none" stroke="#d55e00" stroke-width="4.1"/>
<circle cx="143.3" cy="1606.0" r="10.2" fill="none" stroke="#d55e00" stroke-width="4.1"/>
<circle cx="193.5" cy="1770.5" r="10.2" fill="none" stroke="#d55e00" stroke-width="4.1"/>
<circle cx="129.5" cy="1335.2" r="10.2" fill="none" stroke="#56b4e9" stroke-width="4.1"/>
<circle cx="188.4" cy="1457.8" r="10.2" fill="none" stroke="#56b4e9" stroke-width="4.1"/>
<circle cx="129.5" cy="1500.6" r="10.2" fill="none" stroke="#56b4e9" stroke-width="4.1"/>
<circle cx="135.4" cy="1676.0" r="10.2" fill="none" stroke="#56b4e9" stroke-width="4.1"/>
<circle cx="144.8" cy="1783.6" r="10.2" fill="none" stroke="#56b4e9" stroke-width="4.1"/>
<circle cx="142.5" cy="1251.2" r="10.2" fill="none" stroke="#cc79a7" stroke-width="4.1"/>
<circle cx="129.5" cy="1352.4" r="10.2" fill="none" stroke="#cc79a7" stroke-width="4.1"/>
<circle cx="129.5" cy="1431.6" r="10.2" fill="none" stroke="#cc79a7" stroke-width="4.1"/>
<circle cx="129.5" cy="1453.4" r="10.2" fill="none" stroke="#cc79a7" stroke-width="4.1"/>
<circle cx="153.1" cy="1478.9" r="10.2" fill="none" stroke="#cc79a7" stroke-width="4.1"/>
<circle cx="129.5" cy="1529.2" r="10.2" fill="none" stroke="#cc79a7" stroke-width="4.1"/>
<circle cx="159.4" cy="1597.5" r="10.2" fill="none" stroke="#cc79a7" stroke-width="4.1"/>
<circle cx="143.3" cy="1601.3" r="10.2" fill="none" stroke="#cc79a7" stroke-width="4.1"/>
<circle cx="170.9" cy="1629.7" r="10.2" fill="none" stroke="#cc79a7" stroke-width="4.1"/>
<circle cx="129.5" cy="1652.5" r="10.2" fill="none" stroke="#cc79a7" stroke-width="4.1"/>
<circle cx="131.5" cy="1739.2" r="10.2" fill="none" stroke="#cc79a7" stroke-width="4.1"/>
<path d="M263.9 1519.7L284.3 1540.1M263.9 1540.1L284.3 1519.7" stroke="#56b4e9" stroke-width="4.1" stroke-linecap="round" fill="none"/>
<path d="M316.1 1603.3L336.5 1623.7M316.1 1623.7L336.5 1603.3" stroke="#56b4e9" stroke-width="4.1" stroke-linecap="round" fill="none"/>
<path d="M344.5 1614.4L364.9 1634.8M344.5 1634.8L364.9 1614.4" stroke="#56b4e9" stroke-width="4.1" stroke-linecap="round" fill="none"/>
<path d="M415.8 1630.7L436.2 1651.1M415.8 1651.1L436.2 1630.7" stroke="#56b4e9" stroke-width="4.1" stroke-linecap="round" fill="none"/>
<path d="M246.1 1591.1L266.5 1611.5M246.1 1611.5L266.5 1591.1" stroke="#d55e00" stroke-width="4.1" stroke-linecap="round" fill="none"/>
<path d="M346.8 1715.3L367.2 1735.7M346.8 1735.7L367.2 1715.3" stroke="#d55e00" stroke-width="4.1" stroke-linecap="round" fill="none"/>
<path d="M397.4 1739.8L417.8 1760.2M397.4 1760.2L417.8 1739.8" stroke="#d55e00" stroke-width="4.1" stroke-linecap="round" fill="none"/>
<path d="M425.1 1725.2L445.5 1745.6M425.1 1745.6L445.5 1725.2" stroke="#d55e00" stroke-width="4.1" stroke-linecap="round" fill="none"/>
<path d="M453.0 1767.7L473.4 1788.1M453.0 1788.1L473.4 1767.7" stroke="#cc79a7" stroke-width="4.1" stroke-linecap="round" fill="none"/>
<path d="M728.5 1653.7L748.9 1674.1M728.5 1674.1L748.9 1653.7" stroke="#0072b2" stroke-width="4.1" stroke-linecap="round" fill="none"/>
<path d="M105 1553.8L763.3 1789.2" stroke="#06303d" stroke-width="3.4" fill="none"/>
<path d="M950.7 1237.5V1867" stroke="#2f5560" stroke-width="1.3"/>
<path d="M935.3 1237.5H950.7" stroke="#2f5560" stroke-width="1.3"/>
<text x="921.6" y="1246.1" font-size="23.6" text-anchor="end" fill="#08323f" textLength="27.6" lengthAdjust="spacingAndGlyphs" >30</text>
<path d="M935.3 1447.4H950.7" stroke="#2f5560" stroke-width="1.3"/>
<text x="921.6" y="1456.0" font-size="23.6" text-anchor="end" fill="#08323f" textLength="27.6" lengthAdjust="spacingAndGlyphs" >20</text>
<path d="M935.3 1657.2H950.7" stroke="#2f5560" stroke-width="1.3"/>
<text x="921.6" y="1665.8" font-size="23.6" text-anchor="end" fill="#08323f" textLength="27.6" lengthAdjust="spacingAndGlyphs" >10</text>
<path d="M935.3 1867H950.7" stroke="#2f5560" stroke-width="1.3"/>
<text x="921.6" y="1875.6" font-size="23.6" text-anchor="end" fill="#08323f" textLength="13.7" lengthAdjust="spacingAndGlyphs" >0</text>
<text x="872.7" y="1553.0" font-size="27" text-anchor="middle" fill="#08323f" textLength="473.0" lengthAdjust="spacingAndGlyphs" transform="rotate(-90 872.7 1553.0)" >Percentage of adaptive alleles absent</text>
<rect x="978.1" y="1597.5" width="69.6" height="269.5" fill="#d55e00"/>
<text x="1012.9" y="1901.8" font-size="24" text-anchor="middle" fill="#08323f" textLength="55.6" lengthAdjust="spacingAndGlyphs" >Pure</text>
<rect x="1063.1" y="1721.3" width="70.0" height="145.7" fill="#d55e00"/>
<text x="1098.1" y="1900.2" font-size="24" text-anchor="middle" fill="#08323f" textLength="83.6" lengthAdjust="spacingAndGlyphs" >Hybrid</text>
<rect x="1148.6" y="1239.2" width="69.5" height="627.8" fill="#56b4e9"/>
<text x="1183.3" y="1901.8" font-size="24" text-anchor="middle" fill="#08323f" textLength="55.6" lengthAdjust="spacingAndGlyphs" >Pure</text>
<rect x="1233.5" y="1853" width="69.6" height="14.0" fill="#56b4e9"/>
<text x="1268.3" y="1900.2" font-size="24" text-anchor="middle" fill="#08323f" textLength="83.6" lengthAdjust="spacingAndGlyphs" >Hybrid</text>
<rect x="1319" y="1859.4" width="69.6" height="7.6" fill="#0072b2"/>
<text x="1353.8" y="1901.8" font-size="24" text-anchor="middle" fill="#08323f" textLength="55.6" lengthAdjust="spacingAndGlyphs" >Pure</text>
<rect x="1404" y="1684" width="70.0" height="183.0" fill="#009e73"/>
<text x="1439.0" y="1901.8" font-size="24" text-anchor="middle" fill="#08323f" textLength="55.6" lengthAdjust="spacingAndGlyphs" >Pure</text>
<rect x="1489" y="1323.7" width="70.0" height="543.3" fill="#cc79a7"/>
<text x="1524.0" y="1901.8" font-size="24" text-anchor="middle" fill="#08323f" textLength="55.6" lengthAdjust="spacingAndGlyphs" >Pure</text>
<rect x="1574.4" y="1838" width="69.6" height="29.0" fill="#cc79a7"/>
<text x="1609.2" y="1900.2" font-size="24" text-anchor="middle" fill="#08323f" textLength="83.6" lengthAdjust="spacingAndGlyphs" >Hybrid</text>
<rect x="148.5" y="1929" width="20.6" height="20.6" fill="#56b4e9"/>
<text x="180.0" y="1949.0" font-size="26.5" text-anchor="start" fill="#08323f" textLength="260.0" lengthAdjust="spacingAndGlyphs" >Malanda rainbowfish</text>
<rect x="482" y="1929" width="20.6" height="20.6" fill="#d55e00"/>
<text x="514.8" y="1949.0" font-size="26.5" text-anchor="start" fill="#08323f" textLength="200.2" lengthAdjust="spacingAndGlyphs" font-style="italic" >M. eachamensis</text>
<rect x="760.8" y="1929" width="20.6" height="20.6" fill="#0072b2"/>
<text x="793.0" y="1949.0" font-size="26.5" text-anchor="start" fill="#08323f" textLength="160.4" lengthAdjust="spacingAndGlyphs" font-style="italic" >M. splendida</text>
<rect x="991.2" y="1929" width="20.6" height="20.6" fill="#009e73"/>
<text x="1025.5" y="1949.0" font-size="26.5" text-anchor="start" fill="#08323f" textLength="210.5" lengthAdjust="spacingAndGlyphs" >Tully rainbowfish</text>
<rect x="1286" y="1929" width="20.6" height="20.6" fill="#cc79a7"/>
<text x="1318.3" y="1949.0" font-size="26.5" text-anchor="start" fill="#08323f" textLength="172.2" lengthAdjust="spacingAndGlyphs" font-style="italic" >M. utcheensis</text>
</svg></body></html>
